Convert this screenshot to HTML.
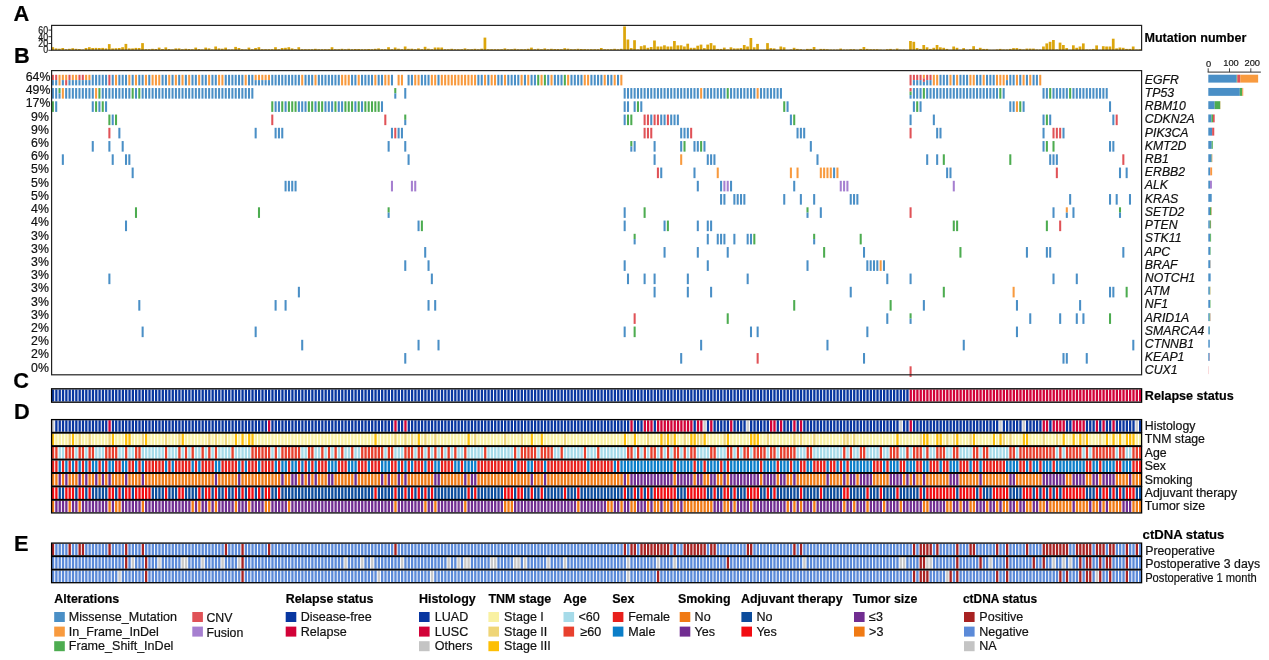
<!DOCTYPE html><html><head><meta charset="utf-8"><style>html,body{margin:0;padding:0;background:#fff;width:1269px;height:660px;overflow:hidden}svg{display:block;filter:blur(0.45px)}text{font-family:"Liberation Sans", sans-serif;stroke:#111;stroke-width:0.2px}</style></head><body>
<svg width="1269" height="660" viewBox="0 0 1269 660">
<rect width="1269" height="660" fill="#fff"/>
<text x="13.5" y="21.4" font-size="21.8" font-weight="bold" fill="#000">A</text>
<text x="14.1" y="63" font-size="21.8" font-weight="bold" fill="#000">B</text>
<text x="13.2" y="387.5" font-size="21.8" font-weight="bold" fill="#000">C</text>
<text x="13.9" y="419" font-size="21.8" font-weight="bold" fill="#000">D</text>
<text x="13.9" y="551" font-size="21.8" font-weight="bold" fill="#000">E</text>
<g fill="#dca60c">
<rect x="51.4" y="47.2" width="2.72" height="2.8"/>
<rect x="54.72" y="48.4" width="2.72" height="1.6"/>
<rect x="58.05" y="48.7" width="2.72" height="1.3"/>
<rect x="61.37" y="48" width="2.72" height="2"/>
<rect x="64.7" y="49.2" width="2.72" height="0.8"/>
<rect x="68.02" y="48.8" width="2.72" height="1.2"/>
<rect x="71.35" y="48.2" width="2.72" height="1.8"/>
<rect x="74.67" y="48.8" width="2.72" height="1.2"/>
<rect x="78" y="49" width="2.72" height="1"/>
<rect x="81.32" y="49.5" width="2.72" height="0.5"/>
<rect x="84.64" y="48" width="2.72" height="2"/>
<rect x="87.97" y="47.2" width="2.72" height="2.8"/>
<rect x="91.29" y="48" width="2.72" height="2"/>
<rect x="94.62" y="47.9" width="2.72" height="2.1"/>
<rect x="97.94" y="48" width="2.72" height="2"/>
<rect x="101.27" y="47.9" width="2.72" height="2.1"/>
<rect x="104.59" y="48.4" width="2.72" height="1.6"/>
<rect x="107.91" y="44.1" width="2.72" height="5.9"/>
<rect x="111.24" y="48.4" width="2.72" height="1.6"/>
<rect x="114.56" y="48.2" width="2.72" height="1.8"/>
<rect x="117.89" y="48" width="2.72" height="2"/>
<rect x="121.21" y="47.2" width="2.72" height="2.8"/>
<rect x="124.54" y="43.9" width="2.72" height="6.1"/>
<rect x="127.86" y="48.4" width="2.72" height="1.6"/>
<rect x="131.19" y="48.4" width="2.72" height="1.6"/>
<rect x="134.51" y="47.9" width="2.72" height="2.1"/>
<rect x="137.83" y="48" width="2.72" height="2"/>
<rect x="141.16" y="43.1" width="2.72" height="6.9"/>
<rect x="144.48" y="49.2" width="2.72" height="0.8"/>
<rect x="147.81" y="49.2" width="2.72" height="0.8"/>
<rect x="151.13" y="48.8" width="2.72" height="1.2"/>
<rect x="154.46" y="49" width="2.72" height="1"/>
<rect x="157.78" y="47.6" width="2.72" height="2.4"/>
<rect x="161.11" y="49" width="2.72" height="1"/>
<rect x="164.43" y="47.4" width="2.72" height="2.6"/>
<rect x="167.75" y="49" width="2.72" height="1"/>
<rect x="171.08" y="49.4" width="2.72" height="0.6"/>
<rect x="174.4" y="48.4" width="2.72" height="1.6"/>
<rect x="177.73" y="48.4" width="2.72" height="1.6"/>
<rect x="181.05" y="49.2" width="2.72" height="0.8"/>
<rect x="184.38" y="48.7" width="2.72" height="1.3"/>
<rect x="187.7" y="49" width="2.72" height="1"/>
<rect x="191.02" y="49.2" width="2.72" height="0.8"/>
<rect x="194.35" y="47.6" width="2.72" height="2.4"/>
<rect x="197.67" y="49" width="2.72" height="1"/>
<rect x="201" y="49.4" width="2.72" height="0.6"/>
<rect x="204.32" y="47.6" width="2.72" height="2.4"/>
<rect x="207.65" y="48.4" width="2.72" height="1.6"/>
<rect x="210.97" y="49.4" width="2.72" height="0.6"/>
<rect x="214.3" y="46.5" width="2.72" height="3.5"/>
<rect x="217.62" y="48.4" width="2.72" height="1.6"/>
<rect x="220.94" y="48.7" width="2.72" height="1.3"/>
<rect x="224.27" y="47.6" width="2.72" height="2.4"/>
<rect x="227.59" y="49.4" width="2.72" height="0.6"/>
<rect x="230.92" y="49.4" width="2.72" height="0.6"/>
<rect x="234.24" y="46.9" width="2.72" height="3.1"/>
<rect x="237.57" y="48" width="2.72" height="2"/>
<rect x="240.89" y="49.2" width="2.72" height="0.8"/>
<rect x="244.22" y="49.4" width="2.72" height="0.6"/>
<rect x="247.54" y="47.6" width="2.72" height="2.4"/>
<rect x="250.86" y="49.2" width="2.72" height="0.8"/>
<rect x="254.19" y="48" width="2.72" height="2"/>
<rect x="257.51" y="47.2" width="2.72" height="2.8"/>
<rect x="260.84" y="49.2" width="2.72" height="0.8"/>
<rect x="264.16" y="49.2" width="2.72" height="0.8"/>
<rect x="267.49" y="49.2" width="2.72" height="0.8"/>
<rect x="270.81" y="49.2" width="2.72" height="0.8"/>
<rect x="274.13" y="47.2" width="2.72" height="2.8"/>
<rect x="277.46" y="49.2" width="2.72" height="0.8"/>
<rect x="280.78" y="48" width="2.72" height="2"/>
<rect x="284.11" y="47.8" width="2.72" height="2.2"/>
<rect x="287.43" y="47.2" width="2.72" height="2.8"/>
<rect x="290.76" y="48.4" width="2.72" height="1.6"/>
<rect x="294.08" y="49.2" width="2.72" height="0.8"/>
<rect x="297.41" y="47.2" width="2.72" height="2.8"/>
<rect x="300.73" y="49.2" width="2.72" height="0.8"/>
<rect x="304.05" y="49.2" width="2.72" height="0.8"/>
<rect x="307.38" y="49.2" width="2.72" height="0.8"/>
<rect x="310.7" y="49.2" width="2.72" height="0.8"/>
<rect x="314.03" y="48.8" width="2.72" height="1.2"/>
<rect x="317.35" y="49.2" width="2.72" height="0.8"/>
<rect x="320.68" y="49.2" width="2.72" height="0.8"/>
<rect x="324" y="49.2" width="2.72" height="0.8"/>
<rect x="327.33" y="49.2" width="2.72" height="0.8"/>
<rect x="330.65" y="47.2" width="2.72" height="2.8"/>
<rect x="333.97" y="49.2" width="2.72" height="0.8"/>
<rect x="337.3" y="49.2" width="2.72" height="0.8"/>
<rect x="340.62" y="48.8" width="2.72" height="1.2"/>
<rect x="343.95" y="49.2" width="2.72" height="0.8"/>
<rect x="347.27" y="48.8" width="2.72" height="1.2"/>
<rect x="350.6" y="49.2" width="2.72" height="0.8"/>
<rect x="353.92" y="49" width="2.72" height="1"/>
<rect x="357.24" y="49" width="2.72" height="1"/>
<rect x="360.57" y="49.2" width="2.72" height="0.8"/>
<rect x="363.89" y="49.2" width="2.72" height="0.8"/>
<rect x="367.22" y="49" width="2.72" height="1"/>
<rect x="370.54" y="49.2" width="2.72" height="0.8"/>
<rect x="373.87" y="48.8" width="2.72" height="1.2"/>
<rect x="377.19" y="48.4" width="2.72" height="1.6"/>
<rect x="380.52" y="49.2" width="2.72" height="0.8"/>
<rect x="383.84" y="49.2" width="2.72" height="0.8"/>
<rect x="387.16" y="47.2" width="2.72" height="2.8"/>
<rect x="390.49" y="49.2" width="2.72" height="0.8"/>
<rect x="393.81" y="47.5" width="2.72" height="2.5"/>
<rect x="397.14" y="48.7" width="2.72" height="1.3"/>
<rect x="400.46" y="49.2" width="2.72" height="0.8"/>
<rect x="403.79" y="46.5" width="2.72" height="3.5"/>
<rect x="407.11" y="48.8" width="2.72" height="1.2"/>
<rect x="410.44" y="48.7" width="2.72" height="1.3"/>
<rect x="413.76" y="49.2" width="2.72" height="0.8"/>
<rect x="417.08" y="48.4" width="2.72" height="1.6"/>
<rect x="420.41" y="49.2" width="2.72" height="0.8"/>
<rect x="423.73" y="46.8" width="2.72" height="3.2"/>
<rect x="427.06" y="48.7" width="2.72" height="1.3"/>
<rect x="430.38" y="49.2" width="2.72" height="0.8"/>
<rect x="433.71" y="47.5" width="2.72" height="2.5"/>
<rect x="437.03" y="47.5" width="2.72" height="2.5"/>
<rect x="440.35" y="47.5" width="2.72" height="2.5"/>
<rect x="443.68" y="49.2" width="2.72" height="0.8"/>
<rect x="447" y="49.2" width="2.72" height="0.8"/>
<rect x="450.33" y="48.8" width="2.72" height="1.2"/>
<rect x="453.65" y="49.2" width="2.72" height="0.8"/>
<rect x="456.98" y="49.2" width="2.72" height="0.8"/>
<rect x="460.3" y="49.2" width="2.72" height="0.8"/>
<rect x="463.63" y="48.4" width="2.72" height="1.6"/>
<rect x="466.95" y="49.2" width="2.72" height="0.8"/>
<rect x="470.27" y="49.2" width="2.72" height="0.8"/>
<rect x="473.6" y="48.8" width="2.72" height="1.2"/>
<rect x="476.92" y="49.2" width="2.72" height="0.8"/>
<rect x="480.25" y="48.7" width="2.72" height="1.3"/>
<rect x="483.57" y="37.6" width="2.72" height="12.4"/>
<rect x="486.9" y="49.2" width="2.72" height="0.8"/>
<rect x="490.22" y="49.2" width="2.72" height="0.8"/>
<rect x="493.55" y="49.2" width="2.72" height="0.8"/>
<rect x="496.87" y="49.2" width="2.72" height="0.8"/>
<rect x="500.19" y="49.2" width="2.72" height="0.8"/>
<rect x="503.52" y="48.4" width="2.72" height="1.6"/>
<rect x="506.84" y="49.2" width="2.72" height="0.8"/>
<rect x="510.17" y="49.2" width="2.72" height="0.8"/>
<rect x="513.49" y="48.7" width="2.72" height="1.3"/>
<rect x="516.82" y="49.2" width="2.72" height="0.8"/>
<rect x="520.14" y="49.2" width="2.72" height="0.8"/>
<rect x="523.46" y="49.2" width="2.72" height="0.8"/>
<rect x="526.79" y="48.8" width="2.72" height="1.2"/>
<rect x="530.11" y="47.6" width="2.72" height="2.4"/>
<rect x="533.44" y="49.2" width="2.72" height="0.8"/>
<rect x="536.76" y="48.7" width="2.72" height="1.3"/>
<rect x="540.09" y="49.2" width="2.72" height="0.8"/>
<rect x="543.41" y="48.4" width="2.72" height="1.6"/>
<rect x="546.74" y="49.2" width="2.72" height="0.8"/>
<rect x="550.06" y="48.8" width="2.72" height="1.2"/>
<rect x="553.38" y="49" width="2.72" height="1"/>
<rect x="556.71" y="49" width="2.72" height="1"/>
<rect x="560.03" y="49.2" width="2.72" height="0.8"/>
<rect x="563.36" y="48.2" width="2.72" height="1.8"/>
<rect x="566.68" y="48.7" width="2.72" height="1.3"/>
<rect x="570.01" y="49.2" width="2.72" height="0.8"/>
<rect x="573.33" y="49.2" width="2.72" height="0.8"/>
<rect x="576.66" y="48.8" width="2.72" height="1.2"/>
<rect x="579.98" y="49" width="2.72" height="1"/>
<rect x="583.3" y="49.1" width="2.72" height="0.9"/>
<rect x="586.63" y="49.2" width="2.72" height="0.8"/>
<rect x="589.95" y="49.2" width="2.72" height="0.8"/>
<rect x="593.28" y="49.2" width="2.72" height="0.8"/>
<rect x="596.6" y="49.2" width="2.72" height="0.8"/>
<rect x="599.93" y="48" width="2.72" height="2"/>
<rect x="603.25" y="49.2" width="2.72" height="0.8"/>
<rect x="606.57" y="49.2" width="2.72" height="0.8"/>
<rect x="609.9" y="49.2" width="2.72" height="0.8"/>
<rect x="613.22" y="48.8" width="2.72" height="1.2"/>
<rect x="616.55" y="49.2" width="2.72" height="0.8"/>
<rect x="619.87" y="48.8" width="2.72" height="1.2"/>
<rect x="623.2" y="26.4" width="2.72" height="23.6"/>
<rect x="626.52" y="39.5" width="2.72" height="10.5"/>
<rect x="629.85" y="48.1" width="2.72" height="1.9"/>
<rect x="633.17" y="40.2" width="2.72" height="9.8"/>
<rect x="636.49" y="49.4" width="2.72" height="0.6"/>
<rect x="639.82" y="46.2" width="2.72" height="3.8"/>
<rect x="643.14" y="45.3" width="2.72" height="4.7"/>
<rect x="646.47" y="47.8" width="2.72" height="2.2"/>
<rect x="649.79" y="47" width="2.72" height="3"/>
<rect x="653.12" y="40.5" width="2.72" height="9.5"/>
<rect x="656.44" y="46.5" width="2.72" height="3.5"/>
<rect x="659.77" y="46.5" width="2.72" height="3.5"/>
<rect x="663.09" y="45.3" width="2.72" height="4.7"/>
<rect x="666.41" y="46.5" width="2.72" height="3.5"/>
<rect x="669.74" y="46.5" width="2.72" height="3.5"/>
<rect x="673.06" y="41" width="2.72" height="9"/>
<rect x="676.39" y="45.4" width="2.72" height="4.6"/>
<rect x="679.71" y="45.3" width="2.72" height="4.7"/>
<rect x="683.04" y="46.5" width="2.72" height="3.5"/>
<rect x="686.36" y="43.7" width="2.72" height="6.3"/>
<rect x="689.68" y="47.8" width="2.72" height="2.2"/>
<rect x="693.01" y="47.8" width="2.72" height="2.2"/>
<rect x="696.33" y="45.7" width="2.72" height="4.3"/>
<rect x="699.66" y="44.6" width="2.72" height="5.4"/>
<rect x="702.98" y="48.1" width="2.72" height="1.9"/>
<rect x="706.31" y="44.6" width="2.72" height="5.4"/>
<rect x="709.63" y="43.1" width="2.72" height="6.9"/>
<rect x="712.96" y="45.4" width="2.72" height="4.6"/>
<rect x="716.28" y="48.9" width="2.72" height="1.1"/>
<rect x="719.6" y="48.9" width="2.72" height="1.1"/>
<rect x="722.93" y="47.6" width="2.72" height="2.4"/>
<rect x="726.25" y="49.4" width="2.72" height="0.6"/>
<rect x="729.58" y="47.3" width="2.72" height="2.7"/>
<rect x="732.9" y="48.4" width="2.72" height="1.6"/>
<rect x="736.23" y="48.4" width="2.72" height="1.6"/>
<rect x="739.55" y="48.1" width="2.72" height="1.9"/>
<rect x="742.88" y="45" width="2.72" height="5"/>
<rect x="746.2" y="46.5" width="2.72" height="3.5"/>
<rect x="749.52" y="38" width="2.72" height="12"/>
<rect x="752.85" y="47.3" width="2.72" height="2.7"/>
<rect x="756.17" y="43.9" width="2.72" height="6.1"/>
<rect x="759.5" y="49.7" width="2.72" height="0.3"/>
<rect x="762.82" y="49.7" width="2.72" height="0.3"/>
<rect x="766.15" y="43.1" width="2.72" height="6.9"/>
<rect x="769.47" y="48.1" width="2.72" height="1.9"/>
<rect x="772.79" y="48.4" width="2.72" height="1.6"/>
<rect x="776.12" y="49.7" width="2.72" height="0.3"/>
<rect x="779.44" y="46.5" width="2.72" height="3.5"/>
<rect x="782.77" y="47.3" width="2.72" height="2.7"/>
<rect x="786.09" y="49.7" width="2.72" height="0.3"/>
<rect x="789.42" y="49.4" width="2.72" height="0.6"/>
<rect x="792.74" y="47.8" width="2.72" height="2.2"/>
<rect x="796.07" y="48.9" width="2.72" height="1.1"/>
<rect x="799.39" y="49.2" width="2.72" height="0.8"/>
<rect x="802.71" y="49.7" width="2.72" height="0.3"/>
<rect x="806.04" y="48.9" width="2.72" height="1.1"/>
<rect x="809.36" y="48.9" width="2.72" height="1.1"/>
<rect x="812.69" y="47" width="2.72" height="3"/>
<rect x="816.01" y="49.7" width="2.72" height="0.3"/>
<rect x="819.34" y="48.9" width="2.72" height="1.1"/>
<rect x="822.66" y="48.9" width="2.72" height="1.1"/>
<rect x="825.99" y="49.2" width="2.72" height="0.8"/>
<rect x="829.31" y="49.5" width="2.72" height="0.5"/>
<rect x="832.63" y="49.5" width="2.72" height="0.5"/>
<rect x="835.96" y="49.5" width="2.72" height="0.5"/>
<rect x="839.28" y="48.6" width="2.72" height="1.4"/>
<rect x="842.61" y="49.5" width="2.72" height="0.5"/>
<rect x="845.93" y="49.5" width="2.72" height="0.5"/>
<rect x="849.26" y="49.2" width="2.72" height="0.8"/>
<rect x="852.58" y="49.2" width="2.72" height="0.8"/>
<rect x="855.9" y="49.7" width="2.72" height="0.3"/>
<rect x="859.23" y="48.9" width="2.72" height="1.1"/>
<rect x="862.55" y="47" width="2.72" height="3"/>
<rect x="865.88" y="48.9" width="2.72" height="1.1"/>
<rect x="869.2" y="49.2" width="2.72" height="0.8"/>
<rect x="872.53" y="49.2" width="2.72" height="0.8"/>
<rect x="875.85" y="49.2" width="2.72" height="0.8"/>
<rect x="879.18" y="49.5" width="2.72" height="0.5"/>
<rect x="882.5" y="49.7" width="2.72" height="0.3"/>
<rect x="885.82" y="49.2" width="2.72" height="0.8"/>
<rect x="889.15" y="48.9" width="2.72" height="1.1"/>
<rect x="892.47" y="49.5" width="2.72" height="0.5"/>
<rect x="895.8" y="48.6" width="2.72" height="1.4"/>
<rect x="899.12" y="49.5" width="2.72" height="0.5"/>
<rect x="902.45" y="49.5" width="2.72" height="0.5"/>
<rect x="905.77" y="49.7" width="2.72" height="0.3"/>
<rect x="909.1" y="41" width="2.72" height="9"/>
<rect x="912.42" y="41.8" width="2.72" height="8.2"/>
<rect x="915.74" y="48.1" width="2.72" height="1.9"/>
<rect x="919.07" y="48.9" width="2.72" height="1.1"/>
<rect x="922.39" y="45" width="2.72" height="5"/>
<rect x="925.72" y="47.3" width="2.72" height="2.7"/>
<rect x="929.04" y="48.9" width="2.72" height="1.1"/>
<rect x="932.37" y="47.8" width="2.72" height="2.2"/>
<rect x="935.69" y="45" width="2.72" height="5"/>
<rect x="939.01" y="47.3" width="2.72" height="2.7"/>
<rect x="942.34" y="47.8" width="2.72" height="2.2"/>
<rect x="945.66" y="48.9" width="2.72" height="1.1"/>
<rect x="948.99" y="49.7" width="2.72" height="0.3"/>
<rect x="952.31" y="46.5" width="2.72" height="3.5"/>
<rect x="955.64" y="47.8" width="2.72" height="2.2"/>
<rect x="958.96" y="49.7" width="2.72" height="0.3"/>
<rect x="962.29" y="48.1" width="2.72" height="1.9"/>
<rect x="965.61" y="49.7" width="2.72" height="0.3"/>
<rect x="968.93" y="49.2" width="2.72" height="0.8"/>
<rect x="972.26" y="46.2" width="2.72" height="3.8"/>
<rect x="975.58" y="49.2" width="2.72" height="0.8"/>
<rect x="978.91" y="47.8" width="2.72" height="2.2"/>
<rect x="982.23" y="48.9" width="2.72" height="1.1"/>
<rect x="985.56" y="48.9" width="2.72" height="1.1"/>
<rect x="988.88" y="49.7" width="2.72" height="0.3"/>
<rect x="992.21" y="49.7" width="2.72" height="0.3"/>
<rect x="995.53" y="49.4" width="2.72" height="0.6"/>
<rect x="998.85" y="48.9" width="2.72" height="1.1"/>
<rect x="1002.18" y="49.4" width="2.72" height="0.6"/>
<rect x="1005.5" y="49.4" width="2.72" height="0.6"/>
<rect x="1008.83" y="48.9" width="2.72" height="1.1"/>
<rect x="1012.15" y="48.1" width="2.72" height="1.9"/>
<rect x="1015.48" y="48.1" width="2.72" height="1.9"/>
<rect x="1018.8" y="48.9" width="2.72" height="1.1"/>
<rect x="1022.12" y="49.4" width="2.72" height="0.6"/>
<rect x="1025.45" y="48.6" width="2.72" height="1.4"/>
<rect x="1028.77" y="48.6" width="2.72" height="1.4"/>
<rect x="1032.1" y="48.6" width="2.72" height="1.4"/>
<rect x="1035.42" y="49.4" width="2.72" height="0.6"/>
<rect x="1038.75" y="49.4" width="2.72" height="0.6"/>
<rect x="1042.07" y="46.5" width="2.72" height="3.5"/>
<rect x="1045.4" y="43.4" width="2.72" height="6.6"/>
<rect x="1048.72" y="41.8" width="2.72" height="8.2"/>
<rect x="1052.04" y="40" width="2.72" height="10"/>
<rect x="1055.37" y="49.4" width="2.72" height="0.6"/>
<rect x="1058.69" y="42.6" width="2.72" height="7.4"/>
<rect x="1062.02" y="45" width="2.72" height="5"/>
<rect x="1065.34" y="48.1" width="2.72" height="1.9"/>
<rect x="1068.67" y="49.7" width="2.72" height="0.3"/>
<rect x="1071.99" y="45.3" width="2.72" height="4.7"/>
<rect x="1075.32" y="47.8" width="2.72" height="2.2"/>
<rect x="1078.64" y="46.5" width="2.72" height="3.5"/>
<rect x="1081.96" y="43.4" width="2.72" height="6.6"/>
<rect x="1085.29" y="49.4" width="2.72" height="0.6"/>
<rect x="1088.61" y="49.4" width="2.72" height="0.6"/>
<rect x="1091.94" y="48.9" width="2.72" height="1.1"/>
<rect x="1095.26" y="45.4" width="2.72" height="4.6"/>
<rect x="1098.59" y="49.7" width="2.72" height="0.3"/>
<rect x="1101.91" y="46.2" width="2.72" height="3.8"/>
<rect x="1105.23" y="46.5" width="2.72" height="3.5"/>
<rect x="1108.56" y="46.5" width="2.72" height="3.5"/>
<rect x="1111.88" y="38.7" width="2.72" height="11.3"/>
<rect x="1115.21" y="48.4" width="2.72" height="1.6"/>
<rect x="1118.53" y="47.5" width="2.72" height="2.5"/>
<rect x="1121.86" y="47.8" width="2.72" height="2.2"/>
<rect x="1125.18" y="48.9" width="2.72" height="1.1"/>
<rect x="1128.51" y="48.9" width="2.72" height="1.1"/>
<rect x="1131.83" y="46.5" width="2.72" height="3.5"/>
<rect x="1135.15" y="49.4" width="2.72" height="0.6"/>
<rect x="1138.48" y="49.2" width="2.72" height="0.8"/>
</g>
<rect x="51.6" y="25.4" width="1090" height="24.8" fill="none" stroke="#222" stroke-width="1.2"/>
<line x1="48.4" y1="30.1" x2="51.6" y2="30.1" stroke="#222" stroke-width="0.9"/>
<text transform="translate(48.2 33.7) scale(0.86 1)" x="0" y="0" font-size="10.3" text-anchor="end" fill="#222">60</text>
<line x1="48.4" y1="36.7" x2="51.6" y2="36.7" stroke="#222" stroke-width="0.9"/>
<text transform="translate(48.2 40.6) scale(0.86 1)" x="0" y="0" font-size="10.3" text-anchor="end" fill="#222">40</text>
<line x1="48.4" y1="43.5" x2="51.6" y2="43.5" stroke="#222" stroke-width="0.9"/>
<text transform="translate(48.2 47.1) scale(0.86 1)" x="0" y="0" font-size="10.3" text-anchor="end" fill="#222">20</text>
<line x1="48.4" y1="50.3" x2="51.6" y2="50.3" stroke="#222" stroke-width="0.9"/>
<text transform="translate(48.2 52.9) scale(0.86 1)" x="0" y="0" font-size="10.3" text-anchor="end" fill="#222">0</text>
<text x="1144.5" y="41.8" font-size="12.55" font-weight="bold" fill="#000">Mutation number</text>
<rect x="51.85" y="74.8" width="2.05" height="5.3" fill="#e05257"/>
<rect x="51.85" y="80.1" width="2.05" height="5.3" fill="#4a8fc6"/>
<rect x="55.17" y="74.8" width="2.05" height="5.3" fill="#e05257"/>
<rect x="55.17" y="80.1" width="2.05" height="5.3" fill="#4a8fc6"/>
<rect x="58.5" y="74.8" width="2.05" height="10.6" fill="#f89a3e"/>
<rect x="61.82" y="74.8" width="2.05" height="5.3" fill="#f89a3e"/>
<rect x="61.82" y="80.1" width="2.05" height="5.3" fill="#4a8fc6"/>
<rect x="65.15" y="74.8" width="2.05" height="5.3" fill="#f89a3e"/>
<rect x="65.15" y="80.1" width="2.05" height="5.3" fill="#e05257"/>
<rect x="68.47" y="74.8" width="2.05" height="5.3" fill="#e05257"/>
<rect x="68.47" y="80.1" width="2.05" height="5.3" fill="#4a8fc6"/>
<rect x="71.8" y="74.8" width="2.05" height="5.3" fill="#f89a3e"/>
<rect x="71.8" y="80.1" width="2.05" height="5.3" fill="#4a8fc6"/>
<rect x="75.12" y="74.8" width="2.05" height="5.3" fill="#f89a3e"/>
<rect x="75.12" y="80.1" width="2.05" height="5.3" fill="#4a8fc6"/>
<rect x="78.45" y="74.8" width="2.05" height="5.3" fill="#e05257"/>
<rect x="78.45" y="80.1" width="2.05" height="5.3" fill="#4a8fc6"/>
<rect x="81.77" y="74.8" width="2.05" height="5.3" fill="#e05257"/>
<rect x="81.77" y="80.1" width="2.05" height="5.3" fill="#4a8fc6"/>
<rect x="85.09" y="74.8" width="2.05" height="5.3" fill="#f89a3e"/>
<rect x="85.09" y="80.1" width="2.05" height="5.3" fill="#4a8fc6"/>
<rect x="88.42" y="74.8" width="2.05" height="5.3" fill="#f89a3e"/>
<rect x="88.42" y="80.1" width="2.05" height="5.3" fill="#4a8fc6"/>
<rect x="91.74" y="74.8" width="2.05" height="10.6" fill="#4a8fc6"/>
<rect x="95.07" y="74.8" width="2.05" height="10.6" fill="#4a8fc6"/>
<rect x="98.39" y="74.8" width="2.05" height="10.6" fill="#4a8fc6"/>
<rect x="101.72" y="74.8" width="2.05" height="10.6" fill="#4a8fc6"/>
<rect x="105.04" y="74.8" width="2.05" height="10.6" fill="#4a8fc6"/>
<rect x="108.36" y="74.8" width="2.05" height="10.6" fill="#e05257"/>
<rect x="111.69" y="74.8" width="2.05" height="10.6" fill="#4a8fc6"/>
<rect x="115.01" y="74.8" width="2.05" height="10.6" fill="#f89a3e"/>
<rect x="118.34" y="74.8" width="2.05" height="10.6" fill="#4a8fc6"/>
<rect x="121.66" y="74.8" width="2.05" height="10.6" fill="#4a8fc6"/>
<rect x="124.99" y="74.8" width="2.05" height="10.6" fill="#4a8fc6"/>
<rect x="128.31" y="74.8" width="2.05" height="10.6" fill="#f89a3e"/>
<rect x="131.64" y="74.8" width="2.05" height="10.6" fill="#4a8fc6"/>
<rect x="134.96" y="74.8" width="2.05" height="10.6" fill="#f89a3e"/>
<rect x="138.28" y="74.8" width="2.05" height="10.6" fill="#4a8fc6"/>
<rect x="141.61" y="74.8" width="2.05" height="10.6" fill="#4a8fc6"/>
<rect x="144.93" y="74.8" width="2.05" height="10.6" fill="#f89a3e"/>
<rect x="148.26" y="74.8" width="2.05" height="10.6" fill="#4a8fc6"/>
<rect x="151.58" y="74.8" width="2.05" height="10.6" fill="#f89a3e"/>
<rect x="154.91" y="74.8" width="2.05" height="10.6" fill="#f89a3e"/>
<rect x="158.23" y="74.8" width="2.05" height="10.6" fill="#f89a3e"/>
<rect x="161.56" y="74.8" width="2.05" height="10.6" fill="#4a8fc6"/>
<rect x="164.88" y="74.8" width="2.05" height="10.6" fill="#4a8fc6"/>
<rect x="168.2" y="74.8" width="2.05" height="10.6" fill="#f89a3e"/>
<rect x="171.53" y="74.8" width="2.05" height="10.6" fill="#4a8fc6"/>
<rect x="174.85" y="74.8" width="2.05" height="10.6" fill="#f89a3e"/>
<rect x="178.18" y="74.8" width="2.05" height="10.6" fill="#4a8fc6"/>
<rect x="181.5" y="74.8" width="2.05" height="10.6" fill="#f89a3e"/>
<rect x="184.83" y="74.8" width="2.05" height="10.6" fill="#4a8fc6"/>
<rect x="188.15" y="74.8" width="2.05" height="10.6" fill="#f89a3e"/>
<rect x="191.47" y="74.8" width="2.05" height="10.6" fill="#4a8fc6"/>
<rect x="194.8" y="74.8" width="2.05" height="10.6" fill="#4a8fc6"/>
<rect x="198.12" y="74.8" width="2.05" height="10.6" fill="#f89a3e"/>
<rect x="201.45" y="74.8" width="2.05" height="10.6" fill="#4a8fc6"/>
<rect x="204.77" y="74.8" width="2.05" height="10.6" fill="#4a8fc6"/>
<rect x="208.1" y="74.8" width="2.05" height="10.6" fill="#f89a3e"/>
<rect x="211.42" y="74.8" width="2.05" height="10.6" fill="#4a8fc6"/>
<rect x="214.75" y="74.8" width="2.05" height="10.6" fill="#4a8fc6"/>
<rect x="218.07" y="74.8" width="2.05" height="10.6" fill="#f89a3e"/>
<rect x="221.39" y="74.8" width="2.05" height="10.6" fill="#f89a3e"/>
<rect x="224.72" y="74.8" width="2.05" height="10.6" fill="#4a8fc6"/>
<rect x="228.04" y="74.8" width="2.05" height="10.6" fill="#4a8fc6"/>
<rect x="231.37" y="74.8" width="2.05" height="10.6" fill="#4a8fc6"/>
<rect x="234.69" y="74.8" width="2.05" height="10.6" fill="#4a8fc6"/>
<rect x="238.02" y="74.8" width="2.05" height="10.6" fill="#4a8fc6"/>
<rect x="241.34" y="74.8" width="2.05" height="10.6" fill="#4a8fc6"/>
<rect x="244.67" y="74.8" width="2.05" height="10.6" fill="#f89a3e"/>
<rect x="247.99" y="74.8" width="2.05" height="10.6" fill="#4a8fc6"/>
<rect x="251.31" y="74.8" width="2.05" height="10.6" fill="#4a8fc6"/>
<rect x="254.64" y="74.8" width="2.05" height="5.3" fill="#f89a3e"/>
<rect x="254.64" y="80.1" width="2.05" height="5.3" fill="#4a8fc6"/>
<rect x="257.96" y="74.8" width="2.05" height="5.3" fill="#f89a3e"/>
<rect x="257.96" y="80.1" width="2.05" height="5.3" fill="#4a8fc6"/>
<rect x="261.29" y="74.8" width="2.05" height="5.3" fill="#f89a3e"/>
<rect x="261.29" y="80.1" width="2.05" height="5.3" fill="#4a8fc6"/>
<rect x="264.61" y="74.8" width="2.05" height="5.3" fill="#f89a3e"/>
<rect x="264.61" y="80.1" width="2.05" height="5.3" fill="#4a8fc6"/>
<rect x="267.94" y="74.8" width="2.05" height="5.3" fill="#f89a3e"/>
<rect x="267.94" y="80.1" width="2.05" height="5.3" fill="#4a8fc6"/>
<rect x="271.26" y="74.8" width="2.05" height="10.6" fill="#4a8fc6"/>
<rect x="274.58" y="74.8" width="2.05" height="10.6" fill="#4a8fc6"/>
<rect x="277.91" y="74.8" width="2.05" height="10.6" fill="#4a8fc6"/>
<rect x="281.23" y="74.8" width="2.05" height="10.6" fill="#4a8fc6"/>
<rect x="284.56" y="74.8" width="2.05" height="10.6" fill="#4a8fc6"/>
<rect x="287.88" y="74.8" width="2.05" height="10.6" fill="#4a8fc6"/>
<rect x="291.21" y="74.8" width="2.05" height="10.6" fill="#4a8fc6"/>
<rect x="294.53" y="74.8" width="2.05" height="10.6" fill="#4a8fc6"/>
<rect x="297.86" y="74.8" width="2.05" height="10.6" fill="#4a8fc6"/>
<rect x="301.18" y="74.8" width="2.05" height="10.6" fill="#f89a3e"/>
<rect x="304.5" y="74.8" width="2.05" height="10.6" fill="#4a8fc6"/>
<rect x="307.83" y="74.8" width="2.05" height="10.6" fill="#4a8fc6"/>
<rect x="311.15" y="74.8" width="2.05" height="10.6" fill="#4a8fc6"/>
<rect x="314.48" y="74.8" width="2.05" height="10.6" fill="#f89a3e"/>
<rect x="317.8" y="74.8" width="2.05" height="10.6" fill="#4a8fc6"/>
<rect x="321.13" y="74.8" width="2.05" height="10.6" fill="#4a8fc6"/>
<rect x="324.45" y="74.8" width="2.05" height="10.6" fill="#4a8fc6"/>
<rect x="327.78" y="74.8" width="2.05" height="10.6" fill="#4a8fc6"/>
<rect x="331.1" y="74.8" width="2.05" height="10.6" fill="#4a8fc6"/>
<rect x="334.42" y="74.8" width="2.05" height="10.6" fill="#4a8fc6"/>
<rect x="337.75" y="74.8" width="2.05" height="10.6" fill="#4a8fc6"/>
<rect x="341.07" y="74.8" width="2.05" height="10.6" fill="#f89a3e"/>
<rect x="344.4" y="74.8" width="2.05" height="10.6" fill="#f89a3e"/>
<rect x="347.72" y="74.8" width="2.05" height="10.6" fill="#f89a3e"/>
<rect x="351.05" y="74.8" width="2.05" height="10.6" fill="#4a8fc6"/>
<rect x="354.37" y="74.8" width="2.05" height="10.6" fill="#4a8fc6"/>
<rect x="357.69" y="74.8" width="2.05" height="10.6" fill="#f89a3e"/>
<rect x="361.02" y="74.8" width="2.05" height="10.6" fill="#4a8fc6"/>
<rect x="364.34" y="74.8" width="2.05" height="10.6" fill="#4a8fc6"/>
<rect x="367.67" y="74.8" width="2.05" height="10.6" fill="#4a8fc6"/>
<rect x="370.99" y="74.8" width="2.05" height="10.6" fill="#4a8fc6"/>
<rect x="374.32" y="74.8" width="2.05" height="10.6" fill="#f89a3e"/>
<rect x="377.64" y="74.8" width="2.05" height="10.6" fill="#4a8fc6"/>
<rect x="380.97" y="74.8" width="2.05" height="10.6" fill="#4a8fc6"/>
<rect x="384.29" y="74.8" width="2.05" height="10.6" fill="#f89a3e"/>
<rect x="387.61" y="74.8" width="2.05" height="10.6" fill="#f89a3e"/>
<rect x="390.94" y="74.8" width="2.05" height="10.6" fill="#4a8fc6"/>
<rect x="397.59" y="74.8" width="2.05" height="10.6" fill="#f89a3e"/>
<rect x="400.91" y="74.8" width="2.05" height="10.6" fill="#f89a3e"/>
<rect x="407.56" y="74.8" width="2.05" height="10.6" fill="#4a8fc6"/>
<rect x="410.89" y="74.8" width="2.05" height="10.6" fill="#4a8fc6"/>
<rect x="414.21" y="74.8" width="2.05" height="10.6" fill="#f89a3e"/>
<rect x="417.53" y="74.8" width="2.05" height="10.6" fill="#f89a3e"/>
<rect x="420.86" y="74.8" width="2.05" height="10.6" fill="#4a8fc6"/>
<rect x="424.18" y="74.8" width="2.05" height="10.6" fill="#4a8fc6"/>
<rect x="427.51" y="74.8" width="2.05" height="10.6" fill="#4a8fc6"/>
<rect x="430.83" y="74.8" width="2.05" height="10.6" fill="#f89a3e"/>
<rect x="434.16" y="74.8" width="2.05" height="10.6" fill="#f89a3e"/>
<rect x="437.48" y="74.8" width="2.05" height="10.6" fill="#4a8fc6"/>
<rect x="440.8" y="74.8" width="2.05" height="10.6" fill="#f89a3e"/>
<rect x="444.13" y="74.8" width="2.05" height="10.6" fill="#f89a3e"/>
<rect x="447.45" y="74.8" width="2.05" height="10.6" fill="#f89a3e"/>
<rect x="450.78" y="74.8" width="2.05" height="10.6" fill="#f89a3e"/>
<rect x="454.1" y="74.8" width="2.05" height="10.6" fill="#f89a3e"/>
<rect x="457.43" y="74.8" width="2.05" height="10.6" fill="#f89a3e"/>
<rect x="460.75" y="74.8" width="2.05" height="10.6" fill="#f89a3e"/>
<rect x="464.08" y="74.8" width="2.05" height="10.6" fill="#f89a3e"/>
<rect x="467.4" y="74.8" width="2.05" height="10.6" fill="#f89a3e"/>
<rect x="470.72" y="74.8" width="2.05" height="10.6" fill="#f89a3e"/>
<rect x="474.05" y="74.8" width="2.05" height="10.6" fill="#f89a3e"/>
<rect x="477.37" y="74.8" width="2.05" height="10.6" fill="#4a8fc6"/>
<rect x="480.7" y="74.8" width="2.05" height="10.6" fill="#4a8fc6"/>
<rect x="484.02" y="74.8" width="2.05" height="10.6" fill="#f89a3e"/>
<rect x="487.35" y="74.8" width="2.05" height="10.6" fill="#4a8fc6"/>
<rect x="490.67" y="74.8" width="2.05" height="10.6" fill="#f89a3e"/>
<rect x="494" y="74.8" width="2.05" height="10.6" fill="#f89a3e"/>
<rect x="497.32" y="74.8" width="2.05" height="10.6" fill="#4a8fc6"/>
<rect x="500.64" y="74.8" width="2.05" height="10.6" fill="#4a8fc6"/>
<rect x="503.97" y="74.8" width="2.05" height="10.6" fill="#f89a3e"/>
<rect x="507.29" y="74.8" width="2.05" height="10.6" fill="#4a8fc6"/>
<rect x="510.62" y="74.8" width="2.05" height="10.6" fill="#4a8fc6"/>
<rect x="513.94" y="74.8" width="2.05" height="10.6" fill="#4a8fc6"/>
<rect x="517.27" y="74.8" width="2.05" height="10.6" fill="#4a8fc6"/>
<rect x="520.59" y="74.8" width="2.05" height="10.6" fill="#f89a3e"/>
<rect x="523.91" y="74.8" width="2.05" height="10.6" fill="#4a8fc6"/>
<rect x="527.24" y="74.8" width="2.05" height="10.6" fill="#f89a3e"/>
<rect x="530.56" y="74.8" width="2.05" height="10.6" fill="#4a8fc6"/>
<rect x="533.89" y="74.8" width="2.05" height="10.6" fill="#4a8fc6"/>
<rect x="537.21" y="74.8" width="2.05" height="10.6" fill="#4dac50"/>
<rect x="540.54" y="74.8" width="2.05" height="10.6" fill="#f89a3e"/>
<rect x="543.86" y="74.8" width="2.05" height="10.6" fill="#4dac50"/>
<rect x="547.19" y="74.8" width="2.05" height="10.6" fill="#4a8fc6"/>
<rect x="550.51" y="74.8" width="2.05" height="10.6" fill="#f89a3e"/>
<rect x="553.83" y="74.8" width="2.05" height="10.6" fill="#4a8fc6"/>
<rect x="557.16" y="74.8" width="2.05" height="10.6" fill="#4a8fc6"/>
<rect x="560.48" y="74.8" width="2.05" height="10.6" fill="#4a8fc6"/>
<rect x="563.81" y="74.8" width="2.05" height="10.6" fill="#4dac50"/>
<rect x="567.13" y="74.8" width="2.05" height="10.6" fill="#f89a3e"/>
<rect x="570.46" y="74.8" width="2.05" height="10.6" fill="#4a8fc6"/>
<rect x="573.78" y="74.8" width="2.05" height="10.6" fill="#4a8fc6"/>
<rect x="577.11" y="74.8" width="2.05" height="10.6" fill="#4a8fc6"/>
<rect x="580.43" y="74.8" width="2.05" height="10.6" fill="#4a8fc6"/>
<rect x="583.75" y="74.8" width="2.05" height="10.6" fill="#f89a3e"/>
<rect x="587.08" y="74.8" width="2.05" height="10.6" fill="#f89a3e"/>
<rect x="590.4" y="74.8" width="2.05" height="10.6" fill="#4a8fc6"/>
<rect x="593.73" y="74.8" width="2.05" height="10.6" fill="#4a8fc6"/>
<rect x="597.05" y="74.8" width="2.05" height="10.6" fill="#4a8fc6"/>
<rect x="600.38" y="74.8" width="2.05" height="10.6" fill="#4a8fc6"/>
<rect x="603.7" y="74.8" width="2.05" height="10.6" fill="#f89a3e"/>
<rect x="607.02" y="74.8" width="2.05" height="10.6" fill="#4a8fc6"/>
<rect x="610.35" y="74.8" width="2.05" height="10.6" fill="#4a8fc6"/>
<rect x="613.67" y="74.8" width="2.05" height="10.6" fill="#f89a3e"/>
<rect x="617" y="74.8" width="2.05" height="10.6" fill="#4a8fc6"/>
<rect x="620.32" y="74.8" width="2.05" height="10.6" fill="#f89a3e"/>
<rect x="909.55" y="74.8" width="2.05" height="10.6" fill="#e05257"/>
<rect x="912.87" y="74.8" width="2.05" height="5.3" fill="#e05257"/>
<rect x="912.87" y="80.1" width="2.05" height="5.3" fill="#4a8fc6"/>
<rect x="916.19" y="74.8" width="2.05" height="5.3" fill="#e05257"/>
<rect x="916.19" y="80.1" width="2.05" height="5.3" fill="#4a8fc6"/>
<rect x="919.52" y="74.8" width="2.05" height="5.3" fill="#e05257"/>
<rect x="919.52" y="80.1" width="2.05" height="5.3" fill="#4a8fc6"/>
<rect x="922.84" y="74.8" width="2.05" height="3.53" fill="#f89a3e"/>
<rect x="922.84" y="78.33" width="2.05" height="3.53" fill="#e05257"/>
<rect x="922.84" y="81.87" width="2.05" height="3.53" fill="#4a8fc6"/>
<rect x="926.17" y="74.8" width="2.05" height="5.3" fill="#e05257"/>
<rect x="926.17" y="80.1" width="2.05" height="5.3" fill="#4a8fc6"/>
<rect x="929.49" y="74.8" width="2.05" height="5.3" fill="#e05257"/>
<rect x="929.49" y="80.1" width="2.05" height="5.3" fill="#4a8fc6"/>
<rect x="932.82" y="74.8" width="2.05" height="10.6" fill="#f89a3e"/>
<rect x="936.14" y="74.8" width="2.05" height="10.6" fill="#f89a3e"/>
<rect x="939.46" y="74.8" width="2.05" height="10.6" fill="#4a8fc6"/>
<rect x="942.79" y="74.8" width="2.05" height="10.6" fill="#4a8fc6"/>
<rect x="946.11" y="74.8" width="2.05" height="10.6" fill="#4a8fc6"/>
<rect x="949.44" y="74.8" width="2.05" height="10.6" fill="#f89a3e"/>
<rect x="952.76" y="74.8" width="2.05" height="10.6" fill="#4a8fc6"/>
<rect x="956.09" y="74.8" width="2.05" height="10.6" fill="#f89a3e"/>
<rect x="959.41" y="74.8" width="2.05" height="10.6" fill="#4a8fc6"/>
<rect x="962.74" y="74.8" width="2.05" height="10.6" fill="#4a8fc6"/>
<rect x="966.06" y="74.8" width="2.05" height="10.6" fill="#4a8fc6"/>
<rect x="969.38" y="74.8" width="2.05" height="10.6" fill="#f89a3e"/>
<rect x="972.71" y="74.8" width="2.05" height="10.6" fill="#f89a3e"/>
<rect x="976.03" y="74.8" width="2.05" height="10.6" fill="#4a8fc6"/>
<rect x="979.36" y="74.8" width="2.05" height="10.6" fill="#4a8fc6"/>
<rect x="982.68" y="74.8" width="2.05" height="10.6" fill="#f89a3e"/>
<rect x="986.01" y="74.8" width="2.05" height="10.6" fill="#4a8fc6"/>
<rect x="989.33" y="74.8" width="2.05" height="10.6" fill="#4a8fc6"/>
<rect x="992.66" y="74.8" width="2.05" height="10.6" fill="#4a8fc6"/>
<rect x="995.98" y="74.8" width="2.05" height="10.6" fill="#f89a3e"/>
<rect x="999.3" y="74.8" width="2.05" height="10.6" fill="#f89a3e"/>
<rect x="1002.63" y="74.8" width="2.05" height="10.6" fill="#f89a3e"/>
<rect x="1005.95" y="74.8" width="2.05" height="5.3" fill="#f89a3e"/>
<rect x="1005.95" y="80.1" width="2.05" height="5.3" fill="#4a8fc6"/>
<rect x="1009.28" y="74.8" width="2.05" height="10.6" fill="#4a8fc6"/>
<rect x="1012.6" y="74.8" width="2.05" height="10.6" fill="#4a8fc6"/>
<rect x="1015.93" y="74.8" width="2.05" height="10.6" fill="#f89a3e"/>
<rect x="1019.25" y="74.8" width="2.05" height="10.6" fill="#4a8fc6"/>
<rect x="1022.57" y="74.8" width="2.05" height="10.6" fill="#f89a3e"/>
<rect x="1025.9" y="74.8" width="2.05" height="10.6" fill="#4a8fc6"/>
<rect x="1029.22" y="74.8" width="2.05" height="10.6" fill="#f89a3e"/>
<rect x="1032.55" y="74.8" width="2.05" height="10.6" fill="#4a8fc6"/>
<rect x="1035.87" y="74.8" width="2.05" height="10.6" fill="#4a8fc6"/>
<rect x="1039.2" y="74.8" width="2.05" height="10.6" fill="#f89a3e"/>
<text x="50.4" y="81" font-size="12.3" text-anchor="end" fill="#111">64%</text>
<text x="1144.8" y="83.8" font-size="12.3" font-style="italic" fill="#111">EGFR</text>
<rect x="1208.3" y="74.7" width="28.33" height="7.9" fill="#4a8fc6"/>
<rect x="1236.63" y="74.7" width="0.64" height="7.9" fill="#4dac50"/>
<rect x="1237.27" y="74.7" width="2.98" height="7.9" fill="#e05257"/>
<rect x="1240.25" y="74.7" width="17.89" height="7.9" fill="#f89a3e"/>
<rect x="51.85" y="88.05" width="2.05" height="10.6" fill="#4a8fc6"/>
<rect x="55.17" y="88.05" width="2.05" height="10.6" fill="#4a8fc6"/>
<rect x="58.5" y="88.05" width="2.05" height="5.3" fill="#4dac50"/>
<rect x="58.5" y="93.35" width="2.05" height="5.3" fill="#4a8fc6"/>
<rect x="61.82" y="88.05" width="2.05" height="10.6" fill="#f89a3e"/>
<rect x="65.15" y="88.05" width="2.05" height="10.6" fill="#4a8fc6"/>
<rect x="68.47" y="88.05" width="2.05" height="10.6" fill="#4a8fc6"/>
<rect x="71.8" y="88.05" width="2.05" height="10.6" fill="#4a8fc6"/>
<rect x="75.12" y="88.05" width="2.05" height="10.6" fill="#4a8fc6"/>
<rect x="78.45" y="88.05" width="2.05" height="10.6" fill="#4a8fc6"/>
<rect x="81.77" y="88.05" width="2.05" height="10.6" fill="#4a8fc6"/>
<rect x="85.09" y="88.05" width="2.05" height="10.6" fill="#4a8fc6"/>
<rect x="88.42" y="88.05" width="2.05" height="10.6" fill="#4a8fc6"/>
<rect x="91.74" y="88.05" width="2.05" height="10.6" fill="#4a8fc6"/>
<rect x="95.07" y="88.05" width="2.05" height="10.6" fill="#f89a3e"/>
<rect x="98.39" y="88.05" width="2.05" height="10.6" fill="#4dac50"/>
<rect x="101.72" y="88.05" width="2.05" height="10.6" fill="#4a8fc6"/>
<rect x="105.04" y="88.05" width="2.05" height="10.6" fill="#4a8fc6"/>
<rect x="108.36" y="88.05" width="2.05" height="10.6" fill="#4a8fc6"/>
<rect x="111.69" y="88.05" width="2.05" height="10.6" fill="#4a8fc6"/>
<rect x="115.01" y="88.05" width="2.05" height="10.6" fill="#4a8fc6"/>
<rect x="118.34" y="88.05" width="2.05" height="10.6" fill="#4a8fc6"/>
<rect x="121.66" y="88.05" width="2.05" height="10.6" fill="#4a8fc6"/>
<rect x="124.99" y="88.05" width="2.05" height="10.6" fill="#4a8fc6"/>
<rect x="128.31" y="88.05" width="2.05" height="10.6" fill="#4a8fc6"/>
<rect x="131.64" y="88.05" width="2.05" height="10.6" fill="#4dac50"/>
<rect x="134.96" y="88.05" width="2.05" height="10.6" fill="#4a8fc6"/>
<rect x="138.28" y="88.05" width="2.05" height="10.6" fill="#4dac50"/>
<rect x="141.61" y="88.05" width="2.05" height="10.6" fill="#4a8fc6"/>
<rect x="144.93" y="88.05" width="2.05" height="10.6" fill="#4a8fc6"/>
<rect x="148.26" y="88.05" width="2.05" height="10.6" fill="#4a8fc6"/>
<rect x="151.58" y="88.05" width="2.05" height="10.6" fill="#4a8fc6"/>
<rect x="154.91" y="88.05" width="2.05" height="10.6" fill="#4a8fc6"/>
<rect x="158.23" y="88.05" width="2.05" height="10.6" fill="#4a8fc6"/>
<rect x="161.56" y="88.05" width="2.05" height="10.6" fill="#4a8fc6"/>
<rect x="164.88" y="88.05" width="2.05" height="10.6" fill="#4a8fc6"/>
<rect x="168.2" y="88.05" width="2.05" height="10.6" fill="#4a8fc6"/>
<rect x="171.53" y="88.05" width="2.05" height="10.6" fill="#4a8fc6"/>
<rect x="174.85" y="88.05" width="2.05" height="10.6" fill="#4a8fc6"/>
<rect x="178.18" y="88.05" width="2.05" height="10.6" fill="#4a8fc6"/>
<rect x="181.5" y="88.05" width="2.05" height="10.6" fill="#4a8fc6"/>
<rect x="184.83" y="88.05" width="2.05" height="10.6" fill="#4a8fc6"/>
<rect x="188.15" y="88.05" width="2.05" height="10.6" fill="#4a8fc6"/>
<rect x="191.47" y="88.05" width="2.05" height="10.6" fill="#4a8fc6"/>
<rect x="194.8" y="88.05" width="2.05" height="10.6" fill="#4a8fc6"/>
<rect x="198.12" y="88.05" width="2.05" height="10.6" fill="#4a8fc6"/>
<rect x="201.45" y="88.05" width="2.05" height="10.6" fill="#4a8fc6"/>
<rect x="204.77" y="88.05" width="2.05" height="10.6" fill="#4a8fc6"/>
<rect x="208.1" y="88.05" width="2.05" height="10.6" fill="#4a8fc6"/>
<rect x="211.42" y="88.05" width="2.05" height="10.6" fill="#4a8fc6"/>
<rect x="214.75" y="88.05" width="2.05" height="10.6" fill="#4a8fc6"/>
<rect x="218.07" y="88.05" width="2.05" height="10.6" fill="#4a8fc6"/>
<rect x="221.39" y="88.05" width="2.05" height="10.6" fill="#4a8fc6"/>
<rect x="224.72" y="88.05" width="2.05" height="10.6" fill="#4a8fc6"/>
<rect x="228.04" y="88.05" width="2.05" height="10.6" fill="#4a8fc6"/>
<rect x="231.37" y="88.05" width="2.05" height="10.6" fill="#4a8fc6"/>
<rect x="234.69" y="88.05" width="2.05" height="10.6" fill="#4a8fc6"/>
<rect x="238.02" y="88.05" width="2.05" height="10.6" fill="#4a8fc6"/>
<rect x="241.34" y="88.05" width="2.05" height="10.6" fill="#4a8fc6"/>
<rect x="244.67" y="88.05" width="2.05" height="10.6" fill="#4a8fc6"/>
<rect x="247.99" y="88.05" width="2.05" height="10.6" fill="#4a8fc6"/>
<rect x="251.31" y="88.05" width="2.05" height="10.6" fill="#4a8fc6"/>
<rect x="394.26" y="88.05" width="2.05" height="5.3" fill="#4dac50"/>
<rect x="394.26" y="93.35" width="2.05" height="5.3" fill="#4a8fc6"/>
<rect x="404.24" y="88.05" width="2.05" height="10.6" fill="#4a8fc6"/>
<rect x="623.65" y="88.05" width="2.05" height="10.6" fill="#4a8fc6"/>
<rect x="626.97" y="88.05" width="2.05" height="10.6" fill="#4a8fc6"/>
<rect x="630.3" y="88.05" width="2.05" height="10.6" fill="#4a8fc6"/>
<rect x="633.62" y="88.05" width="2.05" height="10.6" fill="#4a8fc6"/>
<rect x="636.94" y="88.05" width="2.05" height="10.6" fill="#4a8fc6"/>
<rect x="640.27" y="88.05" width="2.05" height="10.6" fill="#4a8fc6"/>
<rect x="643.59" y="88.05" width="2.05" height="10.6" fill="#4a8fc6"/>
<rect x="646.92" y="88.05" width="2.05" height="10.6" fill="#4a8fc6"/>
<rect x="650.24" y="88.05" width="2.05" height="10.6" fill="#4a8fc6"/>
<rect x="653.57" y="88.05" width="2.05" height="10.6" fill="#4a8fc6"/>
<rect x="656.89" y="88.05" width="2.05" height="10.6" fill="#4a8fc6"/>
<rect x="660.22" y="88.05" width="2.05" height="10.6" fill="#4a8fc6"/>
<rect x="663.54" y="88.05" width="2.05" height="10.6" fill="#4a8fc6"/>
<rect x="666.86" y="88.05" width="2.05" height="10.6" fill="#4a8fc6"/>
<rect x="670.19" y="88.05" width="2.05" height="10.6" fill="#4a8fc6"/>
<rect x="673.51" y="88.05" width="2.05" height="10.6" fill="#4a8fc6"/>
<rect x="676.84" y="88.05" width="2.05" height="10.6" fill="#4a8fc6"/>
<rect x="680.16" y="88.05" width="2.05" height="10.6" fill="#4a8fc6"/>
<rect x="683.49" y="88.05" width="2.05" height="10.6" fill="#4a8fc6"/>
<rect x="686.81" y="88.05" width="2.05" height="10.6" fill="#4a8fc6"/>
<rect x="690.13" y="88.05" width="2.05" height="10.6" fill="#4a8fc6"/>
<rect x="693.46" y="88.05" width="2.05" height="10.6" fill="#4a8fc6"/>
<rect x="696.78" y="88.05" width="2.05" height="10.6" fill="#4a8fc6"/>
<rect x="700.11" y="88.05" width="2.05" height="10.6" fill="#f89a3e"/>
<rect x="703.43" y="88.05" width="2.05" height="10.6" fill="#4a8fc6"/>
<rect x="706.76" y="88.05" width="2.05" height="10.6" fill="#4a8fc6"/>
<rect x="710.08" y="88.05" width="2.05" height="10.6" fill="#4a8fc6"/>
<rect x="713.41" y="88.05" width="2.05" height="10.6" fill="#4a8fc6"/>
<rect x="716.73" y="88.05" width="2.05" height="10.6" fill="#4a8fc6"/>
<rect x="720.05" y="88.05" width="2.05" height="10.6" fill="#4a8fc6"/>
<rect x="723.38" y="88.05" width="2.05" height="10.6" fill="#4a8fc6"/>
<rect x="726.7" y="88.05" width="2.05" height="10.6" fill="#4dac50"/>
<rect x="730.03" y="88.05" width="2.05" height="10.6" fill="#4a8fc6"/>
<rect x="733.35" y="88.05" width="2.05" height="10.6" fill="#4a8fc6"/>
<rect x="736.68" y="88.05" width="2.05" height="10.6" fill="#4a8fc6"/>
<rect x="740" y="88.05" width="2.05" height="10.6" fill="#4a8fc6"/>
<rect x="743.33" y="88.05" width="2.05" height="10.6" fill="#4a8fc6"/>
<rect x="746.65" y="88.05" width="2.05" height="10.6" fill="#4a8fc6"/>
<rect x="749.97" y="88.05" width="2.05" height="10.6" fill="#4a8fc6"/>
<rect x="753.3" y="88.05" width="2.05" height="10.6" fill="#4a8fc6"/>
<rect x="756.62" y="88.05" width="2.05" height="10.6" fill="#f89a3e"/>
<rect x="759.95" y="88.05" width="2.05" height="10.6" fill="#4a8fc6"/>
<rect x="763.27" y="88.05" width="2.05" height="10.6" fill="#4a8fc6"/>
<rect x="766.6" y="88.05" width="2.05" height="10.6" fill="#4a8fc6"/>
<rect x="769.92" y="88.05" width="2.05" height="10.6" fill="#4a8fc6"/>
<rect x="773.24" y="88.05" width="2.05" height="10.6" fill="#4a8fc6"/>
<rect x="776.57" y="88.05" width="2.05" height="10.6" fill="#4a8fc6"/>
<rect x="779.89" y="88.05" width="2.05" height="10.6" fill="#4a8fc6"/>
<rect x="909.55" y="88.05" width="2.05" height="3.53" fill="#e05257"/>
<rect x="909.55" y="91.58" width="2.05" height="3.53" fill="#4dac50"/>
<rect x="909.55" y="95.12" width="2.05" height="3.53" fill="#4a8fc6"/>
<rect x="912.87" y="88.05" width="2.05" height="10.6" fill="#4a8fc6"/>
<rect x="916.19" y="88.05" width="2.05" height="10.6" fill="#4a8fc6"/>
<rect x="919.52" y="88.05" width="2.05" height="10.6" fill="#4a8fc6"/>
<rect x="922.84" y="88.05" width="2.05" height="10.6" fill="#4dac50"/>
<rect x="926.17" y="88.05" width="2.05" height="10.6" fill="#4a8fc6"/>
<rect x="929.49" y="88.05" width="2.05" height="10.6" fill="#4a8fc6"/>
<rect x="932.82" y="88.05" width="2.05" height="10.6" fill="#4a8fc6"/>
<rect x="936.14" y="88.05" width="2.05" height="10.6" fill="#4a8fc6"/>
<rect x="939.46" y="88.05" width="2.05" height="10.6" fill="#4a8fc6"/>
<rect x="942.79" y="88.05" width="2.05" height="10.6" fill="#4a8fc6"/>
<rect x="946.11" y="88.05" width="2.05" height="10.6" fill="#4a8fc6"/>
<rect x="949.44" y="88.05" width="2.05" height="10.6" fill="#4a8fc6"/>
<rect x="952.76" y="88.05" width="2.05" height="10.6" fill="#4a8fc6"/>
<rect x="956.09" y="88.05" width="2.05" height="10.6" fill="#4a8fc6"/>
<rect x="959.41" y="88.05" width="2.05" height="10.6" fill="#4a8fc6"/>
<rect x="962.74" y="88.05" width="2.05" height="10.6" fill="#4a8fc6"/>
<rect x="966.06" y="88.05" width="2.05" height="10.6" fill="#4a8fc6"/>
<rect x="969.38" y="88.05" width="2.05" height="10.6" fill="#4a8fc6"/>
<rect x="972.71" y="88.05" width="2.05" height="10.6" fill="#4a8fc6"/>
<rect x="976.03" y="88.05" width="2.05" height="10.6" fill="#4a8fc6"/>
<rect x="979.36" y="88.05" width="2.05" height="10.6" fill="#4a8fc6"/>
<rect x="982.68" y="88.05" width="2.05" height="10.6" fill="#4a8fc6"/>
<rect x="986.01" y="88.05" width="2.05" height="10.6" fill="#4a8fc6"/>
<rect x="989.33" y="88.05" width="2.05" height="10.6" fill="#4a8fc6"/>
<rect x="992.66" y="88.05" width="2.05" height="10.6" fill="#4a8fc6"/>
<rect x="995.98" y="88.05" width="2.05" height="10.6" fill="#4a8fc6"/>
<rect x="999.3" y="88.05" width="2.05" height="10.6" fill="#4dac50"/>
<rect x="1002.63" y="88.05" width="2.05" height="10.6" fill="#4a8fc6"/>
<rect x="1042.52" y="88.05" width="2.05" height="10.6" fill="#4a8fc6"/>
<rect x="1045.85" y="88.05" width="2.05" height="10.6" fill="#4a8fc6"/>
<rect x="1049.17" y="88.05" width="2.05" height="10.6" fill="#4dac50"/>
<rect x="1052.49" y="88.05" width="2.05" height="10.6" fill="#4a8fc6"/>
<rect x="1055.82" y="88.05" width="2.05" height="10.6" fill="#4a8fc6"/>
<rect x="1059.14" y="88.05" width="2.05" height="10.6" fill="#4a8fc6"/>
<rect x="1062.47" y="88.05" width="2.05" height="10.6" fill="#4a8fc6"/>
<rect x="1065.79" y="88.05" width="2.05" height="10.6" fill="#4a8fc6"/>
<rect x="1069.12" y="88.05" width="2.05" height="10.6" fill="#4dac50"/>
<rect x="1072.44" y="88.05" width="2.05" height="10.6" fill="#4a8fc6"/>
<rect x="1075.77" y="88.05" width="2.05" height="10.6" fill="#4a8fc6"/>
<rect x="1079.09" y="88.05" width="2.05" height="10.6" fill="#4a8fc6"/>
<rect x="1082.41" y="88.05" width="2.05" height="10.6" fill="#4a8fc6"/>
<rect x="1085.74" y="88.05" width="2.05" height="10.6" fill="#4a8fc6"/>
<rect x="1089.06" y="88.05" width="2.05" height="10.6" fill="#4a8fc6"/>
<rect x="1092.39" y="88.05" width="2.05" height="10.6" fill="#4a8fc6"/>
<rect x="1095.71" y="88.05" width="2.05" height="10.6" fill="#4a8fc6"/>
<rect x="1099.04" y="88.05" width="2.05" height="10.6" fill="#4a8fc6"/>
<rect x="1102.36" y="88.05" width="2.05" height="10.6" fill="#4a8fc6"/>
<rect x="1105.68" y="88.05" width="2.05" height="10.6" fill="#4a8fc6"/>
<text x="50.4" y="94.21" font-size="12.3" text-anchor="end" fill="#111">49%</text>
<text x="1144.8" y="97.01" font-size="12.3" font-style="italic" fill="#111">TP53</text>
<rect x="1208.3" y="87.95" width="31.52" height="7.9" fill="#4a8fc6"/>
<rect x="1239.82" y="87.95" width="2.34" height="7.9" fill="#4dac50"/>
<rect x="1242.17" y="87.95" width="0.21" height="7.9" fill="#e05257"/>
<rect x="1242.38" y="87.95" width="0.85" height="7.9" fill="#f89a3e"/>
<rect x="51.85" y="101.3" width="2.05" height="10.6" fill="#4dac50"/>
<rect x="55.17" y="101.3" width="2.05" height="10.6" fill="#4a8fc6"/>
<rect x="91.74" y="101.3" width="2.05" height="10.6" fill="#4a8fc6"/>
<rect x="95.07" y="101.3" width="2.05" height="10.6" fill="#4dac50"/>
<rect x="98.39" y="101.3" width="2.05" height="10.6" fill="#4a8fc6"/>
<rect x="101.72" y="101.3" width="2.05" height="10.6" fill="#4dac50"/>
<rect x="105.04" y="101.3" width="2.05" height="10.6" fill="#4a8fc6"/>
<rect x="271.26" y="101.3" width="2.05" height="10.6" fill="#4dac50"/>
<rect x="274.58" y="101.3" width="2.05" height="10.6" fill="#4a8fc6"/>
<rect x="277.91" y="101.3" width="2.05" height="10.6" fill="#4a8fc6"/>
<rect x="281.23" y="101.3" width="2.05" height="10.6" fill="#4dac50"/>
<rect x="284.56" y="101.3" width="2.05" height="10.6" fill="#4a8fc6"/>
<rect x="287.88" y="101.3" width="2.05" height="10.6" fill="#4dac50"/>
<rect x="291.21" y="101.3" width="2.05" height="10.6" fill="#4dac50"/>
<rect x="294.53" y="101.3" width="2.05" height="10.6" fill="#4dac50"/>
<rect x="297.86" y="101.3" width="2.05" height="10.6" fill="#4a8fc6"/>
<rect x="301.18" y="101.3" width="2.05" height="10.6" fill="#4a8fc6"/>
<rect x="304.5" y="101.3" width="2.05" height="10.6" fill="#4a8fc6"/>
<rect x="307.83" y="101.3" width="2.05" height="10.6" fill="#4dac50"/>
<rect x="311.15" y="101.3" width="2.05" height="10.6" fill="#4dac50"/>
<rect x="314.48" y="101.3" width="2.05" height="10.6" fill="#4a8fc6"/>
<rect x="317.8" y="101.3" width="2.05" height="10.6" fill="#4dac50"/>
<rect x="321.13" y="101.3" width="2.05" height="10.6" fill="#4dac50"/>
<rect x="324.45" y="101.3" width="2.05" height="10.6" fill="#4a8fc6"/>
<rect x="327.78" y="101.3" width="2.05" height="10.6" fill="#4a8fc6"/>
<rect x="331.1" y="101.3" width="2.05" height="10.6" fill="#4a8fc6"/>
<rect x="334.42" y="101.3" width="2.05" height="10.6" fill="#4dac50"/>
<rect x="337.75" y="101.3" width="2.05" height="10.6" fill="#4a8fc6"/>
<rect x="341.07" y="101.3" width="2.05" height="10.6" fill="#4a8fc6"/>
<rect x="344.4" y="101.3" width="2.05" height="10.6" fill="#4dac50"/>
<rect x="347.72" y="101.3" width="2.05" height="10.6" fill="#4dac50"/>
<rect x="351.05" y="101.3" width="2.05" height="10.6" fill="#4dac50"/>
<rect x="354.37" y="101.3" width="2.05" height="10.6" fill="#4a8fc6"/>
<rect x="357.69" y="101.3" width="2.05" height="10.6" fill="#4dac50"/>
<rect x="361.02" y="101.3" width="2.05" height="10.6" fill="#4a8fc6"/>
<rect x="364.34" y="101.3" width="2.05" height="10.6" fill="#4dac50"/>
<rect x="367.67" y="101.3" width="2.05" height="10.6" fill="#4dac50"/>
<rect x="370.99" y="101.3" width="2.05" height="10.6" fill="#4dac50"/>
<rect x="374.32" y="101.3" width="2.05" height="10.6" fill="#4dac50"/>
<rect x="377.64" y="101.3" width="2.05" height="10.6" fill="#4dac50"/>
<rect x="380.97" y="101.3" width="2.05" height="10.6" fill="#4a8fc6"/>
<rect x="623.65" y="101.3" width="2.05" height="10.6" fill="#4a8fc6"/>
<rect x="626.97" y="101.3" width="2.05" height="10.6" fill="#4a8fc6"/>
<rect x="633.62" y="101.3" width="2.05" height="10.6" fill="#4a8fc6"/>
<rect x="636.94" y="101.3" width="2.05" height="10.6" fill="#4dac50"/>
<rect x="640.27" y="101.3" width="2.05" height="10.6" fill="#4a8fc6"/>
<rect x="783.22" y="101.3" width="2.05" height="10.6" fill="#4dac50"/>
<rect x="786.54" y="101.3" width="2.05" height="10.6" fill="#4a8fc6"/>
<rect x="912.87" y="101.3" width="2.05" height="10.6" fill="#4a8fc6"/>
<rect x="916.19" y="101.3" width="2.05" height="10.6" fill="#4dac50"/>
<rect x="919.52" y="101.3" width="2.05" height="10.6" fill="#4a8fc6"/>
<rect x="1009.28" y="101.3" width="2.05" height="10.6" fill="#4a8fc6"/>
<rect x="1012.6" y="101.3" width="2.05" height="10.6" fill="#4a8fc6"/>
<rect x="1015.93" y="101.3" width="2.05" height="10.6" fill="#f89a3e"/>
<rect x="1019.25" y="101.3" width="2.05" height="10.6" fill="#4dac50"/>
<rect x="1022.57" y="101.3" width="2.05" height="10.6" fill="#4a8fc6"/>
<rect x="1109.01" y="101.3" width="2.05" height="10.6" fill="#4a8fc6"/>
<text x="50.4" y="107.42" font-size="12.3" text-anchor="end" fill="#111">17%</text>
<text x="1144.8" y="110.22" font-size="12.3" font-style="italic" fill="#111">RBM10</text>
<rect x="1208.3" y="101.2" width="6.39" height="7.9" fill="#4a8fc6"/>
<rect x="1214.69" y="101.2" width="5.54" height="7.9" fill="#4dac50"/>
<rect x="1220.23" y="101.2" width="0.21" height="7.9" fill="#f89a3e"/>
<rect x="108.36" y="114.55" width="2.05" height="10.6" fill="#4dac50"/>
<rect x="111.69" y="114.55" width="2.05" height="10.6" fill="#4a8fc6"/>
<rect x="115.01" y="114.55" width="2.05" height="10.6" fill="#4dac50"/>
<rect x="271.26" y="114.55" width="2.05" height="10.6" fill="#e05257"/>
<rect x="384.29" y="114.55" width="2.05" height="10.6" fill="#e05257"/>
<rect x="404.24" y="114.55" width="2.05" height="5.3" fill="#4dac50"/>
<rect x="404.24" y="119.85" width="2.05" height="5.3" fill="#4a8fc6"/>
<rect x="623.65" y="114.55" width="2.05" height="10.6" fill="#4a8fc6"/>
<rect x="626.97" y="114.55" width="2.05" height="10.6" fill="#4dac50"/>
<rect x="630.3" y="114.55" width="2.05" height="10.6" fill="#4dac50"/>
<rect x="643.59" y="114.55" width="2.05" height="10.6" fill="#e05257"/>
<rect x="646.92" y="114.55" width="2.05" height="10.6" fill="#e05257"/>
<rect x="650.24" y="114.55" width="2.05" height="10.6" fill="#4a8fc6"/>
<rect x="653.57" y="114.55" width="2.05" height="10.6" fill="#e05257"/>
<rect x="656.89" y="114.55" width="2.05" height="10.6" fill="#e05257"/>
<rect x="660.22" y="114.55" width="2.05" height="10.6" fill="#4a8fc6"/>
<rect x="663.54" y="114.55" width="2.05" height="10.6" fill="#4a8fc6"/>
<rect x="666.86" y="114.55" width="2.05" height="10.6" fill="#e05257"/>
<rect x="670.19" y="114.55" width="2.05" height="10.6" fill="#4a8fc6"/>
<rect x="673.51" y="114.55" width="2.05" height="10.6" fill="#4a8fc6"/>
<rect x="676.84" y="114.55" width="2.05" height="10.6" fill="#4a8fc6"/>
<rect x="789.87" y="114.55" width="2.05" height="10.6" fill="#4a8fc6"/>
<rect x="793.19" y="114.55" width="2.05" height="10.6" fill="#4dac50"/>
<rect x="909.55" y="114.55" width="2.05" height="10.6" fill="#4a8fc6"/>
<rect x="932.82" y="114.55" width="2.05" height="10.6" fill="#4a8fc6"/>
<rect x="1042.52" y="114.55" width="2.05" height="10.6" fill="#4a8fc6"/>
<rect x="1045.85" y="114.55" width="2.05" height="10.6" fill="#4dac50"/>
<rect x="1049.17" y="114.55" width="2.05" height="10.6" fill="#4a8fc6"/>
<rect x="1112.33" y="114.55" width="2.05" height="10.6" fill="#4a8fc6"/>
<rect x="1115.66" y="114.55" width="2.05" height="10.6" fill="#e05257"/>
<text x="48.9" y="120.63" font-size="12.3" text-anchor="end" fill="#111">9%</text>
<text x="1144.8" y="123.43" font-size="12.3" font-style="italic" fill="#111">CDKN2A</text>
<rect x="1208.3" y="114.45" width="3.19" height="7.9" fill="#4a8fc6"/>
<rect x="1211.49" y="114.45" width="1.49" height="7.9" fill="#4dac50"/>
<rect x="1212.99" y="114.45" width="1.7" height="7.9" fill="#e05257"/>
<rect x="108.36" y="127.8" width="2.05" height="10.6" fill="#e05257"/>
<rect x="118.34" y="127.8" width="2.05" height="10.6" fill="#4a8fc6"/>
<rect x="254.64" y="127.8" width="2.05" height="10.6" fill="#4a8fc6"/>
<rect x="274.58" y="127.8" width="2.05" height="10.6" fill="#4a8fc6"/>
<rect x="277.91" y="127.8" width="2.05" height="10.6" fill="#4a8fc6"/>
<rect x="281.23" y="127.8" width="2.05" height="10.6" fill="#4a8fc6"/>
<rect x="390.94" y="127.8" width="2.05" height="10.6" fill="#4a8fc6"/>
<rect x="394.26" y="127.8" width="2.05" height="10.6" fill="#e05257"/>
<rect x="397.59" y="127.8" width="2.05" height="10.6" fill="#4a8fc6"/>
<rect x="400.91" y="127.8" width="2.05" height="10.6" fill="#4a8fc6"/>
<rect x="643.59" y="127.8" width="2.05" height="10.6" fill="#e05257"/>
<rect x="646.92" y="127.8" width="2.05" height="10.6" fill="#e05257"/>
<rect x="650.24" y="127.8" width="2.05" height="10.6" fill="#e05257"/>
<rect x="680.16" y="127.8" width="2.05" height="10.6" fill="#4a8fc6"/>
<rect x="683.49" y="127.8" width="2.05" height="10.6" fill="#4a8fc6"/>
<rect x="686.81" y="127.8" width="2.05" height="10.6" fill="#4a8fc6"/>
<rect x="690.13" y="127.8" width="2.05" height="10.6" fill="#e05257"/>
<rect x="796.52" y="127.8" width="2.05" height="10.6" fill="#4a8fc6"/>
<rect x="799.84" y="127.8" width="2.05" height="10.6" fill="#4a8fc6"/>
<rect x="803.16" y="127.8" width="2.05" height="10.6" fill="#4a8fc6"/>
<rect x="909.55" y="127.8" width="2.05" height="10.6" fill="#e05257"/>
<rect x="936.14" y="127.8" width="2.05" height="10.6" fill="#4a8fc6"/>
<rect x="939.46" y="127.8" width="2.05" height="10.6" fill="#4a8fc6"/>
<rect x="1042.52" y="127.8" width="2.05" height="10.6" fill="#4a8fc6"/>
<rect x="1052.49" y="127.8" width="2.05" height="10.6" fill="#e05257"/>
<rect x="1055.82" y="127.8" width="2.05" height="10.6" fill="#e05257"/>
<rect x="1059.14" y="127.8" width="2.05" height="10.6" fill="#e05257"/>
<rect x="1062.47" y="127.8" width="2.05" height="10.6" fill="#4a8fc6"/>
<text x="48.9" y="133.84" font-size="12.3" text-anchor="end" fill="#111">9%</text>
<text x="1144.8" y="136.64" font-size="12.3" font-style="italic" fill="#111">PIK3CA</text>
<rect x="1208.3" y="127.7" width="3.83" height="7.9" fill="#4a8fc6"/>
<rect x="1212.13" y="127.7" width="2.13" height="7.9" fill="#e05257"/>
<rect x="91.74" y="141.05" width="2.05" height="10.6" fill="#4a8fc6"/>
<rect x="108.36" y="141.05" width="2.05" height="10.6" fill="#4a8fc6"/>
<rect x="121.66" y="141.05" width="2.05" height="10.6" fill="#4a8fc6"/>
<rect x="387.61" y="141.05" width="2.05" height="10.6" fill="#4a8fc6"/>
<rect x="404.24" y="141.05" width="2.05" height="10.6" fill="#4a8fc6"/>
<rect x="630.3" y="141.05" width="2.05" height="5.3" fill="#4dac50"/>
<rect x="630.3" y="146.35" width="2.05" height="5.3" fill="#4a8fc6"/>
<rect x="633.62" y="141.05" width="2.05" height="10.6" fill="#4a8fc6"/>
<rect x="653.57" y="141.05" width="2.05" height="10.6" fill="#4a8fc6"/>
<rect x="680.16" y="141.05" width="2.05" height="10.6" fill="#4a8fc6"/>
<rect x="683.49" y="141.05" width="2.05" height="10.6" fill="#4dac50"/>
<rect x="693.46" y="141.05" width="2.05" height="10.6" fill="#4a8fc6"/>
<rect x="696.78" y="141.05" width="2.05" height="10.6" fill="#4a8fc6"/>
<rect x="700.11" y="141.05" width="2.05" height="10.6" fill="#4dac50"/>
<rect x="703.43" y="141.05" width="2.05" height="10.6" fill="#4a8fc6"/>
<rect x="809.81" y="141.05" width="2.05" height="10.6" fill="#4a8fc6"/>
<rect x="1042.52" y="141.05" width="2.05" height="10.6" fill="#4a8fc6"/>
<rect x="1045.85" y="141.05" width="2.05" height="10.6" fill="#4dac50"/>
<rect x="1052.49" y="141.05" width="2.05" height="10.6" fill="#4dac50"/>
<rect x="1109.01" y="141.05" width="2.05" height="10.6" fill="#4a8fc6"/>
<rect x="1112.33" y="141.05" width="2.05" height="10.6" fill="#4a8fc6"/>
<text x="48.9" y="147.05" font-size="12.3" text-anchor="end" fill="#111">6%</text>
<text x="1144.8" y="149.85" font-size="12.3" font-style="italic" fill="#111">KMT2D</text>
<rect x="1208.3" y="140.95" width="3.41" height="7.9" fill="#4a8fc6"/>
<rect x="1211.71" y="140.95" width="1.06" height="7.9" fill="#4dac50"/>
<rect x="61.82" y="154.3" width="2.05" height="10.6" fill="#4a8fc6"/>
<rect x="111.69" y="154.3" width="2.05" height="10.6" fill="#4a8fc6"/>
<rect x="124.99" y="154.3" width="2.05" height="10.6" fill="#4a8fc6"/>
<rect x="128.31" y="154.3" width="2.05" height="10.6" fill="#4a8fc6"/>
<rect x="407.56" y="154.3" width="2.05" height="10.6" fill="#4a8fc6"/>
<rect x="653.57" y="154.3" width="2.05" height="10.6" fill="#4a8fc6"/>
<rect x="680.16" y="154.3" width="2.05" height="10.6" fill="#f89a3e"/>
<rect x="706.76" y="154.3" width="2.05" height="10.6" fill="#4a8fc6"/>
<rect x="710.08" y="154.3" width="2.05" height="10.6" fill="#4a8fc6"/>
<rect x="713.41" y="154.3" width="2.05" height="10.6" fill="#4a8fc6"/>
<rect x="816.46" y="154.3" width="2.05" height="10.6" fill="#4a8fc6"/>
<rect x="926.17" y="154.3" width="2.05" height="10.6" fill="#4a8fc6"/>
<rect x="936.14" y="154.3" width="2.05" height="10.6" fill="#4a8fc6"/>
<rect x="942.79" y="154.3" width="2.05" height="10.6" fill="#4dac50"/>
<rect x="1009.28" y="154.3" width="2.05" height="10.6" fill="#4dac50"/>
<rect x="1049.17" y="154.3" width="2.05" height="10.6" fill="#4a8fc6"/>
<rect x="1052.49" y="154.3" width="2.05" height="10.6" fill="#4a8fc6"/>
<rect x="1055.82" y="154.3" width="2.05" height="10.6" fill="#4a8fc6"/>
<rect x="1122.31" y="154.3" width="2.05" height="10.6" fill="#e05257"/>
<text x="48.9" y="160.26" font-size="12.3" text-anchor="end" fill="#111">6%</text>
<text x="1144.8" y="163.06" font-size="12.3" font-style="italic" fill="#111">RB1</text>
<rect x="1208.3" y="154.2" width="3.19" height="7.9" fill="#4a8fc6"/>
<rect x="1211.49" y="154.2" width="0.43" height="7.9" fill="#4dac50"/>
<rect x="1211.92" y="154.2" width="0.21" height="7.9" fill="#e05257"/>
<rect x="1212.13" y="154.2" width="0.21" height="7.9" fill="#f89a3e"/>
<rect x="131.64" y="167.55" width="2.05" height="10.6" fill="#4a8fc6"/>
<rect x="656.89" y="167.55" width="2.05" height="10.6" fill="#e05257"/>
<rect x="660.22" y="167.55" width="2.05" height="10.6" fill="#4a8fc6"/>
<rect x="693.46" y="167.55" width="2.05" height="10.6" fill="#4a8fc6"/>
<rect x="716.73" y="167.55" width="2.05" height="10.6" fill="#f89a3e"/>
<rect x="789.87" y="167.55" width="2.05" height="10.6" fill="#f89a3e"/>
<rect x="796.52" y="167.55" width="2.05" height="10.6" fill="#f89a3e"/>
<rect x="819.79" y="167.55" width="2.05" height="10.6" fill="#f89a3e"/>
<rect x="823.11" y="167.55" width="2.05" height="10.6" fill="#f89a3e"/>
<rect x="826.44" y="167.55" width="2.05" height="10.6" fill="#f89a3e"/>
<rect x="829.76" y="167.55" width="2.05" height="10.6" fill="#f89a3e"/>
<rect x="833.08" y="167.55" width="2.05" height="10.6" fill="#4a8fc6"/>
<rect x="836.41" y="167.55" width="2.05" height="10.6" fill="#f89a3e"/>
<rect x="946.11" y="167.55" width="2.05" height="10.6" fill="#4a8fc6"/>
<rect x="949.44" y="167.55" width="2.05" height="10.6" fill="#4a8fc6"/>
<rect x="1055.82" y="167.55" width="2.05" height="10.6" fill="#e05257"/>
<rect x="1118.98" y="167.55" width="2.05" height="10.6" fill="#4a8fc6"/>
<rect x="1125.63" y="167.55" width="2.05" height="10.6" fill="#4a8fc6"/>
<text x="48.9" y="173.47" font-size="12.3" text-anchor="end" fill="#111">5%</text>
<text x="1144.8" y="176.27" font-size="12.3" font-style="italic" fill="#111">ERBB2</text>
<rect x="1208.3" y="167.45" width="1.7" height="7.9" fill="#4a8fc6"/>
<rect x="1210" y="167.45" width="0.43" height="7.9" fill="#e05257"/>
<rect x="1210.43" y="167.45" width="1.7" height="7.9" fill="#f89a3e"/>
<rect x="284.56" y="180.8" width="2.05" height="10.6" fill="#4a8fc6"/>
<rect x="287.88" y="180.8" width="2.05" height="10.6" fill="#4a8fc6"/>
<rect x="291.21" y="180.8" width="2.05" height="10.6" fill="#4a8fc6"/>
<rect x="294.53" y="180.8" width="2.05" height="10.6" fill="#4a8fc6"/>
<rect x="390.94" y="180.8" width="2.05" height="10.6" fill="#a67fd0"/>
<rect x="410.89" y="180.8" width="2.05" height="10.6" fill="#a67fd0"/>
<rect x="414.21" y="180.8" width="2.05" height="10.6" fill="#a67fd0"/>
<rect x="696.78" y="180.8" width="2.05" height="10.6" fill="#4a8fc6"/>
<rect x="720.05" y="180.8" width="2.05" height="10.6" fill="#4a8fc6"/>
<rect x="723.38" y="180.8" width="2.05" height="10.6" fill="#a67fd0"/>
<rect x="726.7" y="180.8" width="2.05" height="10.6" fill="#a67fd0"/>
<rect x="730.03" y="180.8" width="2.05" height="10.6" fill="#4a8fc6"/>
<rect x="793.19" y="180.8" width="2.05" height="10.6" fill="#4a8fc6"/>
<rect x="839.73" y="180.8" width="2.05" height="10.6" fill="#a67fd0"/>
<rect x="843.06" y="180.8" width="2.05" height="10.6" fill="#a67fd0"/>
<rect x="846.38" y="180.8" width="2.05" height="10.6" fill="#a67fd0"/>
<rect x="952.76" y="180.8" width="2.05" height="10.6" fill="#a67fd0"/>
<text x="48.9" y="186.68" font-size="12.3" text-anchor="end" fill="#111">5%</text>
<text x="1144.8" y="189.48" font-size="12.3" font-style="italic" fill="#111">ALK</text>
<rect x="1208.3" y="180.7" width="1.7" height="7.9" fill="#4a8fc6"/>
<rect x="1210" y="180.7" width="1.92" height="7.9" fill="#a67fd0"/>
<rect x="720.05" y="194.05" width="2.05" height="10.6" fill="#4a8fc6"/>
<rect x="723.38" y="194.05" width="2.05" height="10.6" fill="#4a8fc6"/>
<rect x="733.35" y="194.05" width="2.05" height="10.6" fill="#4a8fc6"/>
<rect x="736.68" y="194.05" width="2.05" height="10.6" fill="#4a8fc6"/>
<rect x="740" y="194.05" width="2.05" height="10.6" fill="#4a8fc6"/>
<rect x="743.33" y="194.05" width="2.05" height="10.6" fill="#4a8fc6"/>
<rect x="783.22" y="194.05" width="2.05" height="10.6" fill="#4a8fc6"/>
<rect x="799.84" y="194.05" width="2.05" height="10.6" fill="#4a8fc6"/>
<rect x="813.14" y="194.05" width="2.05" height="10.6" fill="#4a8fc6"/>
<rect x="849.71" y="194.05" width="2.05" height="10.6" fill="#4a8fc6"/>
<rect x="853.03" y="194.05" width="2.05" height="10.6" fill="#4a8fc6"/>
<rect x="856.35" y="194.05" width="2.05" height="10.6" fill="#4a8fc6"/>
<rect x="1069.12" y="194.05" width="2.05" height="10.6" fill="#4a8fc6"/>
<rect x="1109.01" y="194.05" width="2.05" height="10.6" fill="#4a8fc6"/>
<rect x="1115.66" y="194.05" width="2.05" height="10.6" fill="#4a8fc6"/>
<rect x="1128.96" y="194.05" width="2.05" height="10.6" fill="#4a8fc6"/>
<text x="48.9" y="199.89" font-size="12.3" text-anchor="end" fill="#111">5%</text>
<text x="1144.8" y="202.69" font-size="12.3" font-style="italic" fill="#111">KRAS</text>
<rect x="1208.3" y="193.95" width="3.41" height="7.9" fill="#4a8fc6"/>
<rect x="134.96" y="207.3" width="2.05" height="10.6" fill="#4dac50"/>
<rect x="257.96" y="207.3" width="2.05" height="10.6" fill="#4dac50"/>
<rect x="387.61" y="207.3" width="2.05" height="5.3" fill="#4dac50"/>
<rect x="387.61" y="212.6" width="2.05" height="5.3" fill="#4a8fc6"/>
<rect x="623.65" y="207.3" width="2.05" height="10.6" fill="#4a8fc6"/>
<rect x="643.59" y="207.3" width="2.05" height="10.6" fill="#4dac50"/>
<rect x="806.49" y="207.3" width="2.05" height="5.3" fill="#4dac50"/>
<rect x="806.49" y="212.6" width="2.05" height="5.3" fill="#4a8fc6"/>
<rect x="819.79" y="207.3" width="2.05" height="10.6" fill="#4a8fc6"/>
<rect x="909.55" y="207.3" width="2.05" height="10.6" fill="#e05257"/>
<rect x="1052.49" y="207.3" width="2.05" height="10.6" fill="#4a8fc6"/>
<rect x="1065.79" y="207.3" width="2.05" height="5.3" fill="#f89a3e"/>
<rect x="1065.79" y="212.6" width="2.05" height="5.3" fill="#4a8fc6"/>
<rect x="1072.44" y="207.3" width="2.05" height="10.6" fill="#4a8fc6"/>
<rect x="1118.98" y="207.3" width="2.05" height="5.3" fill="#4dac50"/>
<rect x="1118.98" y="212.6" width="2.05" height="5.3" fill="#4a8fc6"/>
<text x="48.9" y="213.1" font-size="12.3" text-anchor="end" fill="#111">4%</text>
<text x="1144.8" y="215.9" font-size="12.3" font-style="italic" fill="#111">SETD2</text>
<rect x="1208.3" y="207.2" width="1.7" height="7.9" fill="#4a8fc6"/>
<rect x="1210" y="207.2" width="1.28" height="7.9" fill="#4dac50"/>
<rect x="1211.28" y="207.2" width="0.21" height="7.9" fill="#e05257"/>
<rect x="1211.49" y="207.2" width="0.21" height="7.9" fill="#f89a3e"/>
<rect x="124.99" y="220.55" width="2.05" height="10.6" fill="#4a8fc6"/>
<rect x="417.53" y="220.55" width="2.05" height="10.6" fill="#4a8fc6"/>
<rect x="420.86" y="220.55" width="2.05" height="10.6" fill="#4dac50"/>
<rect x="623.65" y="220.55" width="2.05" height="10.6" fill="#4a8fc6"/>
<rect x="663.54" y="220.55" width="2.05" height="10.6" fill="#4a8fc6"/>
<rect x="666.86" y="220.55" width="2.05" height="10.6" fill="#4dac50"/>
<rect x="696.78" y="220.55" width="2.05" height="10.6" fill="#4a8fc6"/>
<rect x="706.76" y="220.55" width="2.05" height="10.6" fill="#4a8fc6"/>
<rect x="710.08" y="220.55" width="2.05" height="10.6" fill="#4a8fc6"/>
<rect x="952.76" y="220.55" width="2.05" height="10.6" fill="#4dac50"/>
<rect x="956.09" y="220.55" width="2.05" height="10.6" fill="#4dac50"/>
<rect x="1045.85" y="220.55" width="2.05" height="10.6" fill="#4dac50"/>
<rect x="1059.14" y="220.55" width="2.05" height="10.6" fill="#e05257"/>
<text x="48.9" y="226.31" font-size="12.3" text-anchor="end" fill="#111">4%</text>
<text x="1144.8" y="229.11" font-size="12.3" font-style="italic" fill="#111">PTEN</text>
<rect x="1208.3" y="220.45" width="1.49" height="7.9" fill="#4a8fc6"/>
<rect x="1209.79" y="220.45" width="1.06" height="7.9" fill="#4dac50"/>
<rect x="1210.86" y="220.45" width="0.21" height="7.9" fill="#e05257"/>
<rect x="633.62" y="233.8" width="2.05" height="5.3" fill="#4dac50"/>
<rect x="633.62" y="239.1" width="2.05" height="5.3" fill="#4a8fc6"/>
<rect x="706.76" y="233.8" width="2.05" height="10.6" fill="#4a8fc6"/>
<rect x="716.73" y="233.8" width="2.05" height="10.6" fill="#4a8fc6"/>
<rect x="720.05" y="233.8" width="2.05" height="10.6" fill="#4a8fc6"/>
<rect x="723.38" y="233.8" width="2.05" height="10.6" fill="#4a8fc6"/>
<rect x="733.35" y="233.8" width="2.05" height="10.6" fill="#4a8fc6"/>
<rect x="746.65" y="233.8" width="2.05" height="10.6" fill="#4a8fc6"/>
<rect x="749.97" y="233.8" width="2.05" height="10.6" fill="#4a8fc6"/>
<rect x="753.3" y="233.8" width="2.05" height="10.6" fill="#4dac50"/>
<rect x="813.14" y="233.8" width="2.05" height="5.3" fill="#4dac50"/>
<rect x="813.14" y="239.1" width="2.05" height="5.3" fill="#4a8fc6"/>
<rect x="859.68" y="233.8" width="2.05" height="10.6" fill="#4dac50"/>
<text x="48.9" y="239.52" font-size="12.3" text-anchor="end" fill="#111">3%</text>
<text x="1144.8" y="242.32" font-size="12.3" font-style="italic" fill="#111">STK11</text>
<rect x="1208.3" y="233.7" width="1.92" height="7.9" fill="#4a8fc6"/>
<rect x="1210.22" y="233.7" width="0.85" height="7.9" fill="#4dac50"/>
<rect x="424.18" y="247.05" width="2.05" height="10.6" fill="#4a8fc6"/>
<rect x="663.54" y="247.05" width="2.05" height="10.6" fill="#4a8fc6"/>
<rect x="696.78" y="247.05" width="2.05" height="10.6" fill="#4a8fc6"/>
<rect x="726.7" y="247.05" width="2.05" height="10.6" fill="#4a8fc6"/>
<rect x="823.11" y="247.05" width="2.05" height="10.6" fill="#4dac50"/>
<rect x="863" y="247.05" width="2.05" height="10.6" fill="#4a8fc6"/>
<rect x="959.41" y="247.05" width="2.05" height="10.6" fill="#4dac50"/>
<rect x="1025.9" y="247.05" width="2.05" height="10.6" fill="#4a8fc6"/>
<rect x="1045.85" y="247.05" width="2.05" height="10.6" fill="#4a8fc6"/>
<rect x="1049.17" y="247.05" width="2.05" height="10.6" fill="#4a8fc6"/>
<rect x="1122.31" y="247.05" width="2.05" height="10.6" fill="#4a8fc6"/>
<text x="48.9" y="252.73" font-size="12.3" text-anchor="end" fill="#111">3%</text>
<text x="1144.8" y="255.53" font-size="12.3" font-style="italic" fill="#111">APC</text>
<rect x="1208.3" y="246.95" width="1.92" height="7.9" fill="#4a8fc6"/>
<rect x="1210.22" y="246.95" width="0.43" height="7.9" fill="#4dac50"/>
<rect x="404.24" y="260.3" width="2.05" height="10.6" fill="#4a8fc6"/>
<rect x="427.51" y="260.3" width="2.05" height="10.6" fill="#4a8fc6"/>
<rect x="623.65" y="260.3" width="2.05" height="10.6" fill="#4a8fc6"/>
<rect x="706.76" y="260.3" width="2.05" height="10.6" fill="#4a8fc6"/>
<rect x="806.49" y="260.3" width="2.05" height="10.6" fill="#4a8fc6"/>
<rect x="866.33" y="260.3" width="2.05" height="10.6" fill="#4a8fc6"/>
<rect x="869.65" y="260.3" width="2.05" height="10.6" fill="#4a8fc6"/>
<rect x="872.98" y="260.3" width="2.05" height="10.6" fill="#4a8fc6"/>
<rect x="876.3" y="260.3" width="2.05" height="10.6" fill="#4a8fc6"/>
<rect x="879.63" y="260.3" width="2.05" height="10.6" fill="#f89a3e"/>
<rect x="882.95" y="260.3" width="2.05" height="10.6" fill="#4a8fc6"/>
<text x="48.9" y="265.94" font-size="12.3" text-anchor="end" fill="#111">3%</text>
<text x="1144.8" y="268.74" font-size="12.3" font-style="italic" fill="#111">BRAF</text>
<rect x="1208.3" y="260.2" width="2.13" height="7.9" fill="#4a8fc6"/>
<rect x="1210.43" y="260.2" width="0.21" height="7.9" fill="#f89a3e"/>
<rect x="108.36" y="273.55" width="2.05" height="10.6" fill="#4a8fc6"/>
<rect x="430.83" y="273.55" width="2.05" height="10.6" fill="#4a8fc6"/>
<rect x="626.97" y="273.55" width="2.05" height="10.6" fill="#4a8fc6"/>
<rect x="643.59" y="273.55" width="2.05" height="10.6" fill="#4a8fc6"/>
<rect x="653.57" y="273.55" width="2.05" height="10.6" fill="#4a8fc6"/>
<rect x="686.81" y="273.55" width="2.05" height="10.6" fill="#4a8fc6"/>
<rect x="746.65" y="273.55" width="2.05" height="10.6" fill="#4a8fc6"/>
<rect x="886.27" y="273.55" width="2.05" height="10.6" fill="#4a8fc6"/>
<rect x="909.55" y="273.55" width="2.05" height="10.6" fill="#4a8fc6"/>
<rect x="1052.49" y="273.55" width="2.05" height="10.6" fill="#4a8fc6"/>
<rect x="1075.77" y="273.55" width="2.05" height="10.6" fill="#4a8fc6"/>
<text x="48.9" y="279.15" font-size="12.3" text-anchor="end" fill="#111">3%</text>
<text x="1144.8" y="281.95" font-size="12.3" font-style="italic" fill="#111">NOTCH1</text>
<rect x="1208.3" y="273.45" width="2.34" height="7.9" fill="#4a8fc6"/>
<rect x="297.86" y="286.8" width="2.05" height="10.6" fill="#4a8fc6"/>
<rect x="653.57" y="286.8" width="2.05" height="10.6" fill="#4a8fc6"/>
<rect x="686.81" y="286.8" width="2.05" height="10.6" fill="#4a8fc6"/>
<rect x="710.08" y="286.8" width="2.05" height="10.6" fill="#4a8fc6"/>
<rect x="849.71" y="286.8" width="2.05" height="10.6" fill="#4a8fc6"/>
<rect x="942.79" y="286.8" width="2.05" height="10.6" fill="#4dac50"/>
<rect x="1012.6" y="286.8" width="2.05" height="10.6" fill="#f89a3e"/>
<rect x="1109.01" y="286.8" width="2.05" height="10.6" fill="#4a8fc6"/>
<rect x="1112.33" y="286.8" width="2.05" height="10.6" fill="#4a8fc6"/>
<rect x="1125.63" y="286.8" width="2.05" height="10.6" fill="#4dac50"/>
<text x="48.9" y="292.36" font-size="12.3" text-anchor="end" fill="#111">3%</text>
<text x="1144.8" y="295.16" font-size="12.3" font-style="italic" fill="#111">ATM</text>
<rect x="1208.3" y="286.7" width="1.49" height="7.9" fill="#4a8fc6"/>
<rect x="1209.79" y="286.7" width="0.43" height="7.9" fill="#4dac50"/>
<rect x="1210.22" y="286.7" width="0.21" height="7.9" fill="#f89a3e"/>
<rect x="138.28" y="300.05" width="2.05" height="10.6" fill="#4a8fc6"/>
<rect x="274.58" y="300.05" width="2.05" height="10.6" fill="#4a8fc6"/>
<rect x="284.56" y="300.05" width="2.05" height="10.6" fill="#4a8fc6"/>
<rect x="427.51" y="300.05" width="2.05" height="10.6" fill="#4a8fc6"/>
<rect x="434.16" y="300.05" width="2.05" height="10.6" fill="#4a8fc6"/>
<rect x="793.19" y="300.05" width="2.05" height="10.6" fill="#4dac50"/>
<rect x="889.6" y="300.05" width="2.05" height="10.6" fill="#4dac50"/>
<rect x="922.84" y="300.05" width="2.05" height="10.6" fill="#4a8fc6"/>
<rect x="1015.93" y="300.05" width="2.05" height="10.6" fill="#4a8fc6"/>
<rect x="1079.09" y="300.05" width="2.05" height="10.6" fill="#4a8fc6"/>
<text x="48.9" y="305.57" font-size="12.3" text-anchor="end" fill="#111">3%</text>
<text x="1144.8" y="308.37" font-size="12.3" font-style="italic" fill="#111">NF1</text>
<rect x="1208.3" y="299.95" width="1.7" height="7.9" fill="#4a8fc6"/>
<rect x="1210" y="299.95" width="0.43" height="7.9" fill="#4dac50"/>
<rect x="633.62" y="313.3" width="2.05" height="10.6" fill="#e05257"/>
<rect x="726.7" y="313.3" width="2.05" height="10.6" fill="#4dac50"/>
<rect x="886.27" y="313.3" width="2.05" height="10.6" fill="#4a8fc6"/>
<rect x="909.55" y="313.3" width="2.05" height="5.3" fill="#4dac50"/>
<rect x="909.55" y="318.6" width="2.05" height="5.3" fill="#4a8fc6"/>
<rect x="1029.22" y="313.3" width="2.05" height="10.6" fill="#4a8fc6"/>
<rect x="1059.14" y="313.3" width="2.05" height="10.6" fill="#4a8fc6"/>
<rect x="1075.77" y="313.3" width="2.05" height="10.6" fill="#4a8fc6"/>
<rect x="1082.41" y="313.3" width="2.05" height="10.6" fill="#4a8fc6"/>
<rect x="1109.01" y="313.3" width="2.05" height="10.6" fill="#4dac50"/>
<text x="48.9" y="318.78" font-size="12.3" text-anchor="end" fill="#111">3%</text>
<text x="1144.8" y="321.58" font-size="12.3" font-style="italic" fill="#111">ARID1A</text>
<rect x="1208.3" y="313.2" width="1.28" height="7.9" fill="#4a8fc6"/>
<rect x="1209.58" y="313.2" width="0.64" height="7.9" fill="#4dac50"/>
<rect x="1210.22" y="313.2" width="0.21" height="7.9" fill="#e05257"/>
<rect x="141.61" y="326.55" width="2.05" height="10.6" fill="#4a8fc6"/>
<rect x="254.64" y="326.55" width="2.05" height="10.6" fill="#4a8fc6"/>
<rect x="623.65" y="326.55" width="2.05" height="10.6" fill="#4a8fc6"/>
<rect x="633.62" y="326.55" width="2.05" height="10.6" fill="#4dac50"/>
<rect x="749.97" y="326.55" width="2.05" height="10.6" fill="#4a8fc6"/>
<rect x="756.62" y="326.55" width="2.05" height="10.6" fill="#4a8fc6"/>
<rect x="866.33" y="326.55" width="2.05" height="10.6" fill="#4a8fc6"/>
<rect x="1015.93" y="326.55" width="2.05" height="10.6" fill="#4a8fc6"/>
<text x="48.9" y="331.99" font-size="12.3" text-anchor="end" fill="#111">2%</text>
<text x="1144.8" y="334.79" font-size="12.3" font-style="italic" fill="#111">SMARCA4</text>
<rect x="1208.3" y="326.45" width="1.49" height="7.9" fill="#4a8fc6"/>
<rect x="1209.79" y="326.45" width="0.21" height="7.9" fill="#4dac50"/>
<rect x="301.18" y="339.8" width="2.05" height="10.6" fill="#4a8fc6"/>
<rect x="417.53" y="339.8" width="2.05" height="10.6" fill="#4a8fc6"/>
<rect x="437.48" y="339.8" width="2.05" height="10.6" fill="#4a8fc6"/>
<rect x="700.11" y="339.8" width="2.05" height="10.6" fill="#4a8fc6"/>
<rect x="826.44" y="339.8" width="2.05" height="10.6" fill="#4a8fc6"/>
<rect x="962.74" y="339.8" width="2.05" height="10.6" fill="#4a8fc6"/>
<rect x="1132.28" y="339.8" width="2.05" height="10.6" fill="#4a8fc6"/>
<text x="48.9" y="345.2" font-size="12.3" text-anchor="end" fill="#111">2%</text>
<text x="1144.8" y="348" font-size="12.3" font-style="italic" fill="#111">CTNNB1</text>
<rect x="1208.3" y="339.7" width="1.49" height="7.9" fill="#4a8fc6"/>
<rect x="404.24" y="353.05" width="2.05" height="10.6" fill="#4a8fc6"/>
<rect x="680.16" y="353.05" width="2.05" height="10.6" fill="#4a8fc6"/>
<rect x="756.62" y="353.05" width="2.05" height="10.6" fill="#e05257"/>
<rect x="863" y="353.05" width="2.05" height="10.6" fill="#4a8fc6"/>
<rect x="1062.47" y="353.05" width="2.05" height="10.6" fill="#4a8fc6"/>
<rect x="1065.79" y="353.05" width="2.05" height="10.6" fill="#4a8fc6"/>
<rect x="1085.74" y="353.05" width="2.05" height="10.6" fill="#4a8fc6"/>
<text x="48.9" y="358.41" font-size="12.3" text-anchor="end" fill="#111">2%</text>
<text x="1144.8" y="361.21" font-size="12.3" font-style="italic" fill="#111">KEAP1</text>
<rect x="1208.3" y="352.95" width="1.28" height="7.9" fill="#4a8fc6"/>
<rect x="1209.58" y="352.95" width="0.21" height="7.9" fill="#e05257"/>
<rect x="909.55" y="366.3" width="2.05" height="10.6" fill="#e05257"/>
<text x="48.9" y="371.62" font-size="12.3" text-anchor="end" fill="#111">0%</text>
<text x="1144.8" y="374.42" font-size="12.3" font-style="italic" fill="#111">CUX1</text>
<rect x="1208.3" y="366.2" width="0.21" height="7.9" fill="#e05257"/>
<rect x="51.6" y="70.6" width="1090" height="304.2" fill="none" stroke="#222" stroke-width="1.2"/>
<line x1="1207.6" y1="72.1" x2="1260.9" y2="72.1" stroke="#333" stroke-width="1"/>
<line x1="1208.2" y1="68.3" x2="1208.2" y2="72.1" stroke="#333" stroke-width="0.9"/>
<text x="1208.5" y="67.0" font-size="9.3" text-anchor="middle" fill="#222">0</text>
<line x1="1229.5" y1="68.3" x2="1229.5" y2="72.1" stroke="#333" stroke-width="0.9"/>
<text x="1231" y="66.0" font-size="9.3" text-anchor="middle" fill="#222">100</text>
<line x1="1250.8" y1="68.3" x2="1250.8" y2="72.1" stroke="#333" stroke-width="0.9"/>
<text x="1252.3" y="66.0" font-size="9.3" text-anchor="middle" fill="#222">200</text>
<path fill="#0836a0" d="M51.6 389.4H909.11V401.6H51.6z"/>
<path fill="#d20238" d="M909.11 389.4H1141.6V401.6H909.11z"/>
<path stroke="#fff" stroke-width="1.0" fill="none" d="M54.73 389.4V401.6M58.06 389.4V401.6M61.38 389.4V401.6M64.71 389.4V401.6M68.03 389.4V401.6M71.36 389.4V401.6M74.68 389.4V401.6M78.01 389.4V401.6M81.33 389.4V401.6M84.65 389.4V401.6M87.98 389.4V401.6M91.3 389.4V401.6M94.63 389.4V401.6M97.95 389.4V401.6M101.28 389.4V401.6M104.6 389.4V401.6M107.92 389.4V401.6M111.25 389.4V401.6M114.57 389.4V401.6M117.9 389.4V401.6M121.22 389.4V401.6M124.55 389.4V401.6M127.87 389.4V401.6M131.2 389.4V401.6M134.52 389.4V401.6M137.84 389.4V401.6M141.17 389.4V401.6M144.49 389.4V401.6M147.82 389.4V401.6M151.14 389.4V401.6M154.47 389.4V401.6M157.79 389.4V401.6M161.12 389.4V401.6M164.44 389.4V401.6M167.76 389.4V401.6M171.09 389.4V401.6M174.41 389.4V401.6M177.74 389.4V401.6M181.06 389.4V401.6M184.39 389.4V401.6M187.71 389.4V401.6M191.03 389.4V401.6M194.36 389.4V401.6M197.68 389.4V401.6M201.01 389.4V401.6M204.33 389.4V401.6M207.66 389.4V401.6M210.98 389.4V401.6M214.31 389.4V401.6M217.63 389.4V401.6M220.95 389.4V401.6M224.28 389.4V401.6M227.6 389.4V401.6M230.93 389.4V401.6M234.25 389.4V401.6M237.58 389.4V401.6M240.9 389.4V401.6M244.23 389.4V401.6M247.55 389.4V401.6M250.87 389.4V401.6M254.2 389.4V401.6M257.52 389.4V401.6M260.85 389.4V401.6M264.17 389.4V401.6M267.5 389.4V401.6M270.82 389.4V401.6M274.14 389.4V401.6M277.47 389.4V401.6M280.79 389.4V401.6M284.12 389.4V401.6M287.44 389.4V401.6M290.77 389.4V401.6M294.09 389.4V401.6M297.42 389.4V401.6M300.74 389.4V401.6M304.06 389.4V401.6M307.39 389.4V401.6M310.71 389.4V401.6M314.04 389.4V401.6M317.36 389.4V401.6M320.69 389.4V401.6M324.01 389.4V401.6M327.34 389.4V401.6M330.66 389.4V401.6M333.98 389.4V401.6M337.31 389.4V401.6M340.63 389.4V401.6M343.96 389.4V401.6M347.28 389.4V401.6M350.61 389.4V401.6M353.93 389.4V401.6M357.25 389.4V401.6M360.58 389.4V401.6M363.9 389.4V401.6M367.23 389.4V401.6M370.55 389.4V401.6M373.88 389.4V401.6M377.2 389.4V401.6M380.53 389.4V401.6M383.85 389.4V401.6M387.17 389.4V401.6M390.5 389.4V401.6M393.82 389.4V401.6M397.15 389.4V401.6M400.47 389.4V401.6M403.8 389.4V401.6M407.12 389.4V401.6M410.45 389.4V401.6M413.77 389.4V401.6M417.09 389.4V401.6M420.42 389.4V401.6M423.74 389.4V401.6M427.07 389.4V401.6M430.39 389.4V401.6M433.72 389.4V401.6M437.04 389.4V401.6M440.36 389.4V401.6M443.69 389.4V401.6M447.01 389.4V401.6M450.34 389.4V401.6M453.66 389.4V401.6M456.99 389.4V401.6M460.31 389.4V401.6M463.64 389.4V401.6M466.96 389.4V401.6M470.28 389.4V401.6M473.61 389.4V401.6M476.93 389.4V401.6M480.26 389.4V401.6M483.58 389.4V401.6M486.91 389.4V401.6M490.23 389.4V401.6M493.56 389.4V401.6M496.88 389.4V401.6M500.2 389.4V401.6M503.53 389.4V401.6M506.85 389.4V401.6M510.18 389.4V401.6M513.5 389.4V401.6M516.83 389.4V401.6M520.15 389.4V401.6M523.47 389.4V401.6M526.8 389.4V401.6M530.12 389.4V401.6M533.45 389.4V401.6M536.77 389.4V401.6M540.1 389.4V401.6M543.42 389.4V401.6M546.75 389.4V401.6M550.07 389.4V401.6M553.39 389.4V401.6M556.72 389.4V401.6M560.04 389.4V401.6M563.37 389.4V401.6M566.69 389.4V401.6M570.02 389.4V401.6M573.34 389.4V401.6M576.67 389.4V401.6M579.99 389.4V401.6M583.31 389.4V401.6M586.64 389.4V401.6M589.96 389.4V401.6M593.29 389.4V401.6M596.61 389.4V401.6M599.94 389.4V401.6M603.26 389.4V401.6M606.58 389.4V401.6M609.91 389.4V401.6M613.23 389.4V401.6M616.56 389.4V401.6M619.88 389.4V401.6M623.21 389.4V401.6M626.53 389.4V401.6M629.86 389.4V401.6M633.18 389.4V401.6M636.5 389.4V401.6M639.83 389.4V401.6M643.15 389.4V401.6M646.48 389.4V401.6M649.8 389.4V401.6M653.13 389.4V401.6M656.45 389.4V401.6M659.78 389.4V401.6M663.1 389.4V401.6M666.42 389.4V401.6M669.75 389.4V401.6M673.07 389.4V401.6M676.4 389.4V401.6M679.72 389.4V401.6M683.05 389.4V401.6M686.37 389.4V401.6M689.69 389.4V401.6M693.02 389.4V401.6M696.34 389.4V401.6M699.67 389.4V401.6M702.99 389.4V401.6M706.32 389.4V401.6M709.64 389.4V401.6M712.97 389.4V401.6M716.29 389.4V401.6M719.61 389.4V401.6M722.94 389.4V401.6M726.26 389.4V401.6M729.59 389.4V401.6M732.91 389.4V401.6M736.24 389.4V401.6M739.56 389.4V401.6M742.89 389.4V401.6M746.21 389.4V401.6M749.53 389.4V401.6M752.86 389.4V401.6M756.18 389.4V401.6M759.51 389.4V401.6M762.83 389.4V401.6M766.16 389.4V401.6M769.48 389.4V401.6M772.8 389.4V401.6M776.13 389.4V401.6M779.45 389.4V401.6M782.78 389.4V401.6M786.1 389.4V401.6M789.43 389.4V401.6M792.75 389.4V401.6M796.08 389.4V401.6M799.4 389.4V401.6M802.72 389.4V401.6M806.05 389.4V401.6M809.37 389.4V401.6M812.7 389.4V401.6M816.02 389.4V401.6M819.35 389.4V401.6M822.67 389.4V401.6M826 389.4V401.6M829.32 389.4V401.6M832.64 389.4V401.6M835.97 389.4V401.6M839.29 389.4V401.6M842.62 389.4V401.6M845.94 389.4V401.6M849.27 389.4V401.6M852.59 389.4V401.6M855.91 389.4V401.6M859.24 389.4V401.6M862.56 389.4V401.6M865.89 389.4V401.6M869.21 389.4V401.6M872.54 389.4V401.6M875.86 389.4V401.6M879.19 389.4V401.6M882.51 389.4V401.6M885.83 389.4V401.6M889.16 389.4V401.6M892.48 389.4V401.6M895.81 389.4V401.6M899.13 389.4V401.6M902.46 389.4V401.6M905.78 389.4V401.6M909.11 389.4V401.6M912.43 389.4V401.6M915.75 389.4V401.6M919.08 389.4V401.6M922.4 389.4V401.6M925.73 389.4V401.6M929.05 389.4V401.6M932.38 389.4V401.6M935.7 389.4V401.6M939.02 389.4V401.6M942.35 389.4V401.6M945.67 389.4V401.6M949 389.4V401.6M952.32 389.4V401.6M955.65 389.4V401.6M958.97 389.4V401.6M962.3 389.4V401.6M965.62 389.4V401.6M968.94 389.4V401.6M972.27 389.4V401.6M975.59 389.4V401.6M978.92 389.4V401.6M982.24 389.4V401.6M985.57 389.4V401.6M988.89 389.4V401.6M992.22 389.4V401.6M995.54 389.4V401.6M998.86 389.4V401.6M1002.19 389.4V401.6M1005.51 389.4V401.6M1008.84 389.4V401.6M1012.16 389.4V401.6M1015.49 389.4V401.6M1018.81 389.4V401.6M1022.13 389.4V401.6M1025.46 389.4V401.6M1028.78 389.4V401.6M1032.11 389.4V401.6M1035.43 389.4V401.6M1038.76 389.4V401.6M1042.08 389.4V401.6M1045.41 389.4V401.6M1048.73 389.4V401.6M1052.05 389.4V401.6M1055.38 389.4V401.6M1058.7 389.4V401.6M1062.03 389.4V401.6M1065.35 389.4V401.6M1068.68 389.4V401.6M1072 389.4V401.6M1075.33 389.4V401.6M1078.65 389.4V401.6M1081.97 389.4V401.6M1085.3 389.4V401.6M1088.62 389.4V401.6M1091.95 389.4V401.6M1095.27 389.4V401.6M1098.6 389.4V401.6M1101.92 389.4V401.6M1105.24 389.4V401.6M1108.57 389.4V401.6M1111.89 389.4V401.6M1115.22 389.4V401.6M1118.54 389.4V401.6M1121.87 389.4V401.6M1125.19 389.4V401.6M1128.52 389.4V401.6M1131.84 389.4V401.6M1135.16 389.4V401.6M1138.49 389.4V401.6"/>
<rect x="51.6" y="388.8" width="1090" height="13.4" fill="none" stroke="#000" stroke-width="1.3"/>
<text x="1144.8" y="399.5" font-size="12.6" font-weight="bold" fill="#000">Relapse status</text>
<path fill="#cccccc" d="M51.6 420.2H54.73V431.8H51.6zM702.99 420.2H706.32V431.8H702.99zM746.21 420.2H749.53V431.8H746.21zM899.13 420.2H902.46V431.8H899.13zM998.86 420.2H1002.19V431.8H998.86zM1022.13 420.2H1025.46V431.8H1022.13zM1135.16 420.2H1138.49V431.8H1135.16z"/>
<path fill="#0836a0" d="M54.73 420.2H107.92V431.8H54.73zM111.25 420.2H267.5V431.8H111.25zM270.82 420.2H393.82V431.8H270.82zM397.15 420.2H403.8V431.8H397.15zM407.12 420.2H629.86V431.8H407.12zM633.18 420.2H643.15V431.8H633.18zM653.13 420.2H656.45V431.8H653.13zM693.02 420.2H696.34V431.8H693.02zM706.32 420.2H709.64V431.8H706.32zM712.97 420.2H729.59V431.8H712.97zM732.91 420.2H746.21V431.8H732.91zM749.53 420.2H769.48V431.8H749.53zM776.13 420.2H779.45V431.8H776.13zM782.78 420.2H792.75V431.8H782.78zM796.08 420.2H799.4V431.8H796.08zM802.72 420.2H899.13V431.8H802.72zM902.46 420.2H909.11V431.8H902.46zM912.43 420.2H998.86V431.8H912.43zM1002.19 420.2H1022.13V431.8H1002.19zM1025.46 420.2H1042.08V431.8H1025.46zM1048.73 420.2H1052.05V431.8H1048.73zM1065.35 420.2H1072V431.8H1065.35zM1085.3 420.2H1095.27V431.8H1085.3zM1098.6 420.2H1101.92V431.8H1098.6zM1105.24 420.2H1111.89V431.8H1105.24zM1115.22 420.2H1135.16V431.8H1115.22zM1138.49 420.2H1141.6V431.8H1138.49z"/>
<path fill="#d20238" d="M107.92 420.2H111.25V431.8H107.92zM267.5 420.2H270.82V431.8H267.5zM393.82 420.2H397.15V431.8H393.82zM403.8 420.2H407.12V431.8H403.8zM629.86 420.2H633.18V431.8H629.86zM643.15 420.2H653.13V431.8H643.15zM656.45 420.2H693.02V431.8H656.45zM696.34 420.2H702.99V431.8H696.34zM709.64 420.2H712.97V431.8H709.64zM729.59 420.2H732.91V431.8H729.59zM769.48 420.2H776.13V431.8H769.48zM779.45 420.2H782.78V431.8H779.45zM792.75 420.2H796.08V431.8H792.75zM799.4 420.2H802.72V431.8H799.4zM909.11 420.2H912.43V431.8H909.11zM1042.08 420.2H1048.73V431.8H1042.08zM1052.05 420.2H1065.35V431.8H1052.05zM1072 420.2H1085.3V431.8H1072zM1095.27 420.2H1098.6V431.8H1095.27zM1101.92 420.2H1105.24V431.8H1101.92zM1111.89 420.2H1115.22V431.8H1111.89z"/>
<text x="1144.8" y="430" font-size="12.3" fill="#111">Histology</text>
<path fill="#fdbf05" d="M51.6 433.62H54.73V445.22H51.6zM71.36 433.62H74.68V445.22H71.36zM111.25 433.62H114.57V445.22H111.25zM124.55 433.62H131.2V445.22H124.55zM144.49 433.62H147.82V445.22H144.49zM181.06 433.62H184.39V445.22H181.06zM234.25 433.62H237.58V445.22H234.25zM240.9 433.62H244.23V445.22H240.9zM247.55 433.62H254.2V445.22H247.55zM373.88 433.62H377.2V445.22H373.88zM417.09 433.62H420.42V445.22H417.09zM466.96 433.62H470.28V445.22H466.96zM530.12 433.62H533.45V445.22H530.12zM540.1 433.62H543.42V445.22H540.1zM623.21 433.62H626.53V445.22H623.21zM633.18 433.62H636.5V445.22H633.18zM659.78 433.62H663.1V445.22H659.78zM666.42 433.62H669.75V445.22H666.42zM673.07 433.62H676.4V445.22H673.07zM689.69 433.62H696.34V445.22H689.69zM702.99 433.62H706.32V445.22H702.99zM726.26 433.62H729.59V445.22H726.26zM749.53 433.62H759.51V445.22H749.53zM895.81 433.62H899.13V445.22H895.81zM922.4 433.62H929.05V445.22H922.4zM935.7 433.62H942.35V445.22H935.7zM955.65 433.62H958.97V445.22H955.65zM972.27 433.62H975.59V445.22H972.27zM992.22 433.62H995.54V445.22H992.22zM998.86 433.62H1002.19V445.22H998.86zM1022.13 433.62H1028.78V445.22H1022.13zM1062.03 433.62H1065.35V445.22H1062.03zM1072 433.62H1075.33V445.22H1072zM1078.65 433.62H1081.97V445.22H1078.65zM1085.3 433.62H1088.62V445.22H1085.3zM1105.24 433.62H1108.57V445.22H1105.24zM1111.89 433.62H1115.22V445.22H1111.89zM1118.54 433.62H1121.87V445.22H1118.54zM1125.19 433.62H1135.16V445.22H1125.19z"/>
<path fill="#f9f1a2" d="M54.73 433.62H68.03V445.22H54.73zM74.68 433.62H78.01V445.22H74.68zM81.33 433.62H87.98V445.22H81.33zM91.3 433.62H107.92V445.22H91.3zM114.57 433.62H124.55V445.22H114.57zM131.2 433.62H141.17V445.22H131.2zM147.82 433.62H164.44V445.22H147.82zM167.76 433.62H177.74V445.22H167.76zM184.39 433.62H207.66V445.22H184.39zM210.98 433.62H214.31V445.22H210.98zM217.63 433.62H224.28V445.22H217.63zM227.6 433.62H234.25V445.22H227.6zM237.58 433.62H240.9V445.22H237.58zM244.23 433.62H247.55V445.22H244.23zM254.2 433.62H373.88V445.22H254.2zM377.2 433.62H393.82V445.22H377.2zM397.15 433.62H403.8V445.22H397.15zM407.12 433.62H410.45V445.22H407.12zM413.77 433.62H417.09V445.22H413.77zM420.42 433.62H423.74V445.22H420.42zM427.07 433.62H433.72V445.22H427.07zM437.04 433.62H466.96V445.22H437.04zM470.28 433.62H473.61V445.22H470.28zM476.93 433.62H503.53V445.22H476.93zM506.85 433.62H520.15V445.22H506.85zM523.47 433.62H530.12V445.22H523.47zM533.45 433.62H540.1V445.22H533.45zM543.42 433.62H563.37V445.22H543.42zM566.69 433.62H623.21V445.22H566.69zM626.53 433.62H633.18V445.22H626.53zM636.5 433.62H646.48V445.22H636.5zM649.8 433.62H659.78V445.22H649.8zM676.4 433.62H683.05V445.22H676.4zM686.37 433.62H689.69V445.22H686.37zM706.32 433.62H722.94V445.22H706.32zM729.59 433.62H749.53V445.22H729.59zM759.51 433.62H766.16V445.22H759.51zM769.48 433.62H792.75V445.22H769.48zM796.08 433.62H799.4V445.22H796.08zM802.72 433.62H812.7V445.22H802.72zM816.02 433.62H842.62V445.22H816.02zM849.27 433.62H852.59V445.22H849.27zM855.91 433.62H895.81V445.22H855.91zM899.13 433.62H919.08V445.22H899.13zM929.05 433.62H935.7V445.22H929.05zM942.35 433.62H945.67V445.22H942.35zM949 433.62H952.32V445.22H949zM958.97 433.62H968.94V445.22H958.97zM975.59 433.62H992.22V445.22H975.59zM995.54 433.62H998.86V445.22H995.54zM1005.51 433.62H1008.84V445.22H1005.51zM1012.16 433.62H1022.13V445.22H1012.16zM1028.78 433.62H1042.08V445.22H1028.78zM1045.41 433.62H1055.38V445.22H1045.41zM1058.7 433.62H1062.03V445.22H1058.7zM1065.35 433.62H1072V445.22H1065.35zM1075.33 433.62H1078.65V445.22H1075.33zM1088.62 433.62H1098.6V445.22H1088.62zM1101.92 433.62H1105.24V445.22H1101.92zM1108.57 433.62H1111.89V445.22H1108.57zM1115.22 433.62H1118.54V445.22H1115.22zM1121.87 433.62H1125.19V445.22H1121.87zM1135.16 433.62H1141.6V445.22H1135.16z"/>
<path fill="#efd577" d="M68.03 433.62H71.36V445.22H68.03zM78.01 433.62H81.33V445.22H78.01zM87.98 433.62H91.3V445.22H87.98zM107.92 433.62H111.25V445.22H107.92zM141.17 433.62H144.49V445.22H141.17zM164.44 433.62H167.76V445.22H164.44zM177.74 433.62H181.06V445.22H177.74zM207.66 433.62H210.98V445.22H207.66zM214.31 433.62H217.63V445.22H214.31zM224.28 433.62H227.6V445.22H224.28zM393.82 433.62H397.15V445.22H393.82zM403.8 433.62H407.12V445.22H403.8zM410.45 433.62H413.77V445.22H410.45zM423.74 433.62H427.07V445.22H423.74zM433.72 433.62H437.04V445.22H433.72zM473.61 433.62H476.93V445.22H473.61zM503.53 433.62H506.85V445.22H503.53zM520.15 433.62H523.47V445.22H520.15zM563.37 433.62H566.69V445.22H563.37zM646.48 433.62H649.8V445.22H646.48zM663.1 433.62H666.42V445.22H663.1zM669.75 433.62H673.07V445.22H669.75zM683.05 433.62H686.37V445.22H683.05zM696.34 433.62H702.99V445.22H696.34zM722.94 433.62H726.26V445.22H722.94zM766.16 433.62H769.48V445.22H766.16zM792.75 433.62H796.08V445.22H792.75zM799.4 433.62H802.72V445.22H799.4zM812.7 433.62H816.02V445.22H812.7zM842.62 433.62H849.27V445.22H842.62zM852.59 433.62H855.91V445.22H852.59zM919.08 433.62H922.4V445.22H919.08zM945.67 433.62H949V445.22H945.67zM952.32 433.62H955.65V445.22H952.32zM968.94 433.62H972.27V445.22H968.94zM1002.19 433.62H1005.51V445.22H1002.19zM1008.84 433.62H1012.16V445.22H1008.84zM1042.08 433.62H1045.41V445.22H1042.08zM1055.38 433.62H1058.7V445.22H1055.38zM1081.97 433.62H1085.3V445.22H1081.97zM1098.6 433.62H1101.92V445.22H1098.6z"/>
<text x="1144.8" y="443.4" font-size="12.3" fill="#111">TNM stage</text>
<path fill="#e8402e" d="M51.6 447.04H58.06V458.64H51.6zM64.71 447.04H74.68V458.64H64.71zM78.01 447.04H84.65V458.64H78.01zM87.98 447.04H94.63V458.64H87.98zM104.6 447.04H117.9V458.64H104.6zM124.55 447.04H127.87V458.64H124.55zM134.52 447.04H141.17V458.64H134.52zM164.44 447.04H167.76V458.64H164.44zM177.74 447.04H181.06V458.64H177.74zM184.39 447.04H187.71V458.64H184.39zM191.03 447.04H194.36V458.64H191.03zM201.01 447.04H204.33V458.64H201.01zM207.66 447.04H210.98V458.64H207.66zM214.31 447.04H217.63V458.64H214.31zM230.93 447.04H234.25V458.64H230.93zM250.87 447.04H270.82V458.64H250.87zM274.14 447.04H277.47V458.64H274.14zM280.79 447.04H300.74V458.64H280.79zM307.39 447.04H314.04V458.64H307.39zM320.69 447.04H324.01V458.64H320.69zM327.34 447.04H330.66V458.64H327.34zM333.98 447.04H337.31V458.64H333.98zM340.63 447.04H343.96V458.64H340.63zM350.61 447.04H353.93V458.64H350.61zM360.58 447.04H383.85V458.64H360.58zM387.17 447.04H393.82V458.64H387.17zM403.8 447.04H413.77V458.64H403.8zM417.09 447.04H423.74V458.64H417.09zM427.07 447.04H430.39V458.64H427.07zM433.72 447.04H437.04V458.64H433.72zM440.36 447.04H443.69V458.64H440.36zM447.01 447.04H450.34V458.64H447.01zM453.66 447.04H456.99V458.64H453.66zM463.64 447.04H466.96V458.64H463.64zM483.58 447.04H486.91V458.64H483.58zM513.5 447.04H516.83V458.64H513.5zM520.15 447.04H536.77V458.64H520.15zM540.1 447.04H553.39V458.64H540.1zM560.04 447.04H563.37V458.64H560.04zM583.31 447.04H586.64V458.64H583.31zM596.61 447.04H599.94V458.64H596.61zM626.53 447.04H633.18V458.64H626.53zM636.5 447.04H639.83V458.64H636.5zM643.15 447.04H646.48V458.64H643.15zM649.8 447.04H656.45V458.64H649.8zM659.78 447.04H663.1V458.64H659.78zM666.42 447.04H669.75V458.64H666.42zM673.07 447.04H679.72V458.64H673.07zM683.05 447.04H686.37V458.64H683.05zM689.69 447.04H696.34V458.64H689.69zM709.64 447.04H716.29V458.64H709.64zM726.26 447.04H732.91V458.64H726.26zM736.24 447.04H739.56V458.64H736.24zM742.89 447.04H749.53V458.64H742.89zM752.86 447.04H766.16V458.64H752.86zM769.48 447.04H776.13V458.64H769.48zM779.45 447.04H796.08V458.64H779.45zM806.05 447.04H812.7V458.64H806.05zM842.62 447.04H845.94V458.64H842.62zM849.27 447.04H852.59V458.64H849.27zM859.24 447.04H865.89V458.64H859.24zM879.19 447.04H882.51V458.64H879.19zM889.16 447.04H899.13V458.64H889.16zM905.78 447.04H909.11V458.64H905.78zM912.43 447.04H922.4V458.64H912.43zM925.73 447.04H929.05V458.64H925.73zM935.7 447.04H945.67V458.64H935.7zM952.32 447.04H958.97V458.64H952.32zM972.27 447.04H978.92V458.64H972.27zM982.24 447.04H988.89V458.64H982.24zM1008.84 447.04H1015.49V458.64H1008.84zM1018.81 447.04H1055.38V458.64H1018.81zM1058.7 447.04H1062.03V458.64H1058.7zM1065.35 447.04H1081.97V458.64H1065.35zM1085.3 447.04H1088.62V458.64H1085.3zM1091.95 447.04H1115.22V458.64H1091.95zM1118.54 447.04H1125.19V458.64H1118.54zM1131.84 447.04H1141.6V458.64H1131.84z"/>
<path fill="#a6dbe9" d="M58.06 447.04H64.71V458.64H58.06zM74.68 447.04H78.01V458.64H74.68zM84.65 447.04H87.98V458.64H84.65zM94.63 447.04H104.6V458.64H94.63zM117.9 447.04H124.55V458.64H117.9zM127.87 447.04H134.52V458.64H127.87zM141.17 447.04H164.44V458.64H141.17zM167.76 447.04H177.74V458.64H167.76zM181.06 447.04H184.39V458.64H181.06zM187.71 447.04H191.03V458.64H187.71zM194.36 447.04H201.01V458.64H194.36zM204.33 447.04H207.66V458.64H204.33zM210.98 447.04H214.31V458.64H210.98zM217.63 447.04H230.93V458.64H217.63zM234.25 447.04H250.87V458.64H234.25zM270.82 447.04H274.14V458.64H270.82zM277.47 447.04H280.79V458.64H277.47zM300.74 447.04H307.39V458.64H300.74zM314.04 447.04H320.69V458.64H314.04zM324.01 447.04H327.34V458.64H324.01zM330.66 447.04H333.98V458.64H330.66zM337.31 447.04H340.63V458.64H337.31zM343.96 447.04H350.61V458.64H343.96zM353.93 447.04H360.58V458.64H353.93zM383.85 447.04H387.17V458.64H383.85zM393.82 447.04H403.8V458.64H393.82zM413.77 447.04H417.09V458.64H413.77zM423.74 447.04H427.07V458.64H423.74zM430.39 447.04H433.72V458.64H430.39zM437.04 447.04H440.36V458.64H437.04zM443.69 447.04H447.01V458.64H443.69zM450.34 447.04H453.66V458.64H450.34zM456.99 447.04H463.64V458.64H456.99zM466.96 447.04H483.58V458.64H466.96zM486.91 447.04H513.5V458.64H486.91zM516.83 447.04H520.15V458.64H516.83zM536.77 447.04H540.1V458.64H536.77zM553.39 447.04H560.04V458.64H553.39zM563.37 447.04H583.31V458.64H563.37zM586.64 447.04H596.61V458.64H586.64zM599.94 447.04H626.53V458.64H599.94zM633.18 447.04H636.5V458.64H633.18zM639.83 447.04H643.15V458.64H639.83zM646.48 447.04H649.8V458.64H646.48zM656.45 447.04H659.78V458.64H656.45zM663.1 447.04H666.42V458.64H663.1zM669.75 447.04H673.07V458.64H669.75zM679.72 447.04H683.05V458.64H679.72zM686.37 447.04H689.69V458.64H686.37zM696.34 447.04H709.64V458.64H696.34zM716.29 447.04H726.26V458.64H716.29zM732.91 447.04H736.24V458.64H732.91zM739.56 447.04H742.89V458.64H739.56zM749.53 447.04H752.86V458.64H749.53zM766.16 447.04H769.48V458.64H766.16zM776.13 447.04H779.45V458.64H776.13zM796.08 447.04H806.05V458.64H796.08zM812.7 447.04H842.62V458.64H812.7zM845.94 447.04H849.27V458.64H845.94zM852.59 447.04H859.24V458.64H852.59zM865.89 447.04H879.19V458.64H865.89zM882.51 447.04H889.16V458.64H882.51zM899.13 447.04H905.78V458.64H899.13zM909.11 447.04H912.43V458.64H909.11zM922.4 447.04H925.73V458.64H922.4zM929.05 447.04H935.7V458.64H929.05zM945.67 447.04H952.32V458.64H945.67zM958.97 447.04H972.27V458.64H958.97zM978.92 447.04H982.24V458.64H978.92zM988.89 447.04H1008.84V458.64H988.89zM1015.49 447.04H1018.81V458.64H1015.49zM1055.38 447.04H1058.7V458.64H1055.38zM1062.03 447.04H1065.35V458.64H1062.03zM1081.97 447.04H1085.3V458.64H1081.97zM1088.62 447.04H1091.95V458.64H1088.62zM1115.22 447.04H1118.54V458.64H1115.22zM1125.19 447.04H1131.84V458.64H1125.19z"/>
<text x="1144.8" y="456.8" font-size="12.3" fill="#111">Age</text>
<path fill="#e8201c" d="M51.6 460.46H58.06V472.06H51.6zM61.38 460.46H64.71V472.06H61.38zM68.03 460.46H71.36V472.06H68.03zM74.68 460.46H78.01V472.06H74.68zM81.33 460.46H84.65V472.06H81.33zM87.98 460.46H91.3V472.06H87.98zM97.95 460.46H101.28V472.06H97.95zM104.6 460.46H107.92V472.06H104.6zM114.57 460.46H121.22V472.06H114.57zM127.87 460.46H134.52V472.06H127.87zM137.84 460.46H141.17V472.06H137.84zM144.49 460.46H164.44V472.06H144.49zM167.76 460.46H171.09V472.06H167.76zM174.41 460.46H191.03V472.06H174.41zM194.36 460.46H197.68V472.06H194.36zM201.01 460.46H214.31V472.06H201.01zM220.95 460.46H237.58V472.06H220.95zM240.9 460.46H244.23V472.06H240.9zM247.55 460.46H257.52V472.06H247.55zM260.85 460.46H274.14V472.06H260.85zM277.47 460.46H280.79V472.06H277.47zM287.44 460.46H290.77V472.06H287.44zM297.42 460.46H300.74V472.06H297.42zM304.06 460.46H307.39V472.06H304.06zM310.71 460.46H314.04V472.06H310.71zM317.36 460.46H327.34V472.06H317.36zM337.31 460.46H347.28V472.06H337.31zM357.25 460.46H367.23V472.06H357.25zM370.55 460.46H380.53V472.06H370.55zM390.5 460.46H397.15V472.06H390.5zM400.47 460.46H403.8V472.06H400.47zM407.12 460.46H410.45V472.06H407.12zM413.77 460.46H423.74V472.06H413.77zM427.07 460.46H433.72V472.06H427.07zM440.36 460.46H453.66V472.06H440.36zM460.31 460.46H463.64V472.06H460.31zM476.93 460.46H513.5V472.06H476.93zM516.83 460.46H526.8V472.06H516.83zM533.45 460.46H543.42V472.06H533.45zM546.75 460.46H586.64V472.06H546.75zM589.96 460.46H613.23V472.06H589.96zM616.56 460.46H619.88V472.06H616.56zM673.07 460.46H676.4V472.06H673.07zM693.02 460.46H696.34V472.06H693.02zM702.99 460.46H706.32V472.06H702.99zM719.61 460.46H722.94V472.06H719.61zM726.26 460.46H729.59V472.06H726.26zM759.51 460.46H762.83V472.06H759.51zM776.13 460.46H779.45V472.06H776.13zM789.43 460.46H792.75V472.06H789.43zM799.4 460.46H806.05V472.06H799.4zM812.7 460.46H826V472.06H812.7zM829.32 460.46H835.97V472.06H829.32zM839.29 460.46H842.62V472.06H839.29zM845.94 460.46H849.27V472.06H845.94zM872.54 460.46H882.51V472.06H872.54zM885.83 460.46H889.16V472.06H885.83zM899.13 460.46H905.78V472.06H899.13zM915.75 460.46H922.4V472.06H915.75zM929.05 460.46H939.02V472.06H929.05zM942.35 460.46H949V472.06H942.35zM958.97 460.46H968.94V472.06H958.97zM972.27 460.46H978.92V472.06H972.27zM982.24 460.46H1005.51V472.06H982.24zM1018.81 460.46H1025.46V472.06H1018.81zM1028.78 460.46H1032.11V472.06H1028.78zM1038.76 460.46H1042.08V472.06H1038.76zM1052.05 460.46H1055.38V472.06H1052.05zM1085.3 460.46H1091.95V472.06H1085.3zM1098.6 460.46H1101.92V472.06H1098.6zM1115.22 460.46H1121.87V472.06H1115.22zM1131.84 460.46H1141.6V472.06H1131.84z"/>
<path fill="#0b7ec8" d="M58.06 460.46H61.38V472.06H58.06zM64.71 460.46H68.03V472.06H64.71zM71.36 460.46H74.68V472.06H71.36zM78.01 460.46H81.33V472.06H78.01zM84.65 460.46H87.98V472.06H84.65zM91.3 460.46H97.95V472.06H91.3zM101.28 460.46H104.6V472.06H101.28zM107.92 460.46H114.57V472.06H107.92zM121.22 460.46H127.87V472.06H121.22zM134.52 460.46H137.84V472.06H134.52zM141.17 460.46H144.49V472.06H141.17zM164.44 460.46H167.76V472.06H164.44zM171.09 460.46H174.41V472.06H171.09zM191.03 460.46H194.36V472.06H191.03zM197.68 460.46H201.01V472.06H197.68zM214.31 460.46H220.95V472.06H214.31zM237.58 460.46H240.9V472.06H237.58zM244.23 460.46H247.55V472.06H244.23zM257.52 460.46H260.85V472.06H257.52zM274.14 460.46H277.47V472.06H274.14zM280.79 460.46H287.44V472.06H280.79zM290.77 460.46H297.42V472.06H290.77zM300.74 460.46H304.06V472.06H300.74zM307.39 460.46H310.71V472.06H307.39zM314.04 460.46H317.36V472.06H314.04zM327.34 460.46H337.31V472.06H327.34zM347.28 460.46H357.25V472.06H347.28zM367.23 460.46H370.55V472.06H367.23zM380.53 460.46H390.5V472.06H380.53zM397.15 460.46H400.47V472.06H397.15zM403.8 460.46H407.12V472.06H403.8zM410.45 460.46H413.77V472.06H410.45zM423.74 460.46H427.07V472.06H423.74zM433.72 460.46H440.36V472.06H433.72zM453.66 460.46H460.31V472.06H453.66zM463.64 460.46H476.93V472.06H463.64zM513.5 460.46H516.83V472.06H513.5zM526.8 460.46H533.45V472.06H526.8zM543.42 460.46H546.75V472.06H543.42zM586.64 460.46H589.96V472.06H586.64zM613.23 460.46H616.56V472.06H613.23zM619.88 460.46H673.07V472.06H619.88zM676.4 460.46H693.02V472.06H676.4zM696.34 460.46H702.99V472.06H696.34zM706.32 460.46H719.61V472.06H706.32zM722.94 460.46H726.26V472.06H722.94zM729.59 460.46H759.51V472.06H729.59zM762.83 460.46H776.13V472.06H762.83zM779.45 460.46H789.43V472.06H779.45zM792.75 460.46H799.4V472.06H792.75zM806.05 460.46H812.7V472.06H806.05zM826 460.46H829.32V472.06H826zM835.97 460.46H839.29V472.06H835.97zM842.62 460.46H845.94V472.06H842.62zM849.27 460.46H872.54V472.06H849.27zM882.51 460.46H885.83V472.06H882.51zM889.16 460.46H899.13V472.06H889.16zM905.78 460.46H915.75V472.06H905.78zM922.4 460.46H929.05V472.06H922.4zM939.02 460.46H942.35V472.06H939.02zM949 460.46H958.97V472.06H949zM968.94 460.46H972.27V472.06H968.94zM978.92 460.46H982.24V472.06H978.92zM1005.51 460.46H1018.81V472.06H1005.51zM1025.46 460.46H1028.78V472.06H1025.46zM1032.11 460.46H1038.76V472.06H1032.11zM1042.08 460.46H1052.05V472.06H1042.08zM1055.38 460.46H1085.3V472.06H1055.38zM1091.95 460.46H1098.6V472.06H1091.95zM1101.92 460.46H1115.22V472.06H1101.92zM1121.87 460.46H1131.84V472.06H1121.87z"/>
<text x="1144.8" y="470.2" font-size="12.3" fill="#111">Sex</text>
<path fill="#f07a14" d="M51.6 473.88H58.06V485.48H51.6zM61.38 473.88H64.71V485.48H61.38zM68.03 473.88H78.01V485.48H68.03zM81.33 473.88H84.65V485.48H81.33zM87.98 473.88H94.63V485.48H87.98zM97.95 473.88H101.28V485.48H97.95zM104.6 473.88H107.92V485.48H104.6zM111.25 473.88H124.55V485.48H111.25zM127.87 473.88H141.17V485.48H127.87zM144.49 473.88H214.31V485.48H144.49zM217.63 473.88H237.58V485.48H217.63zM240.9 473.88H280.79V485.48H240.9zM284.12 473.88H290.77V485.48H284.12zM297.42 473.88H300.74V485.48H297.42zM304.06 473.88H307.39V485.48H304.06zM310.71 473.88H314.04V485.48H310.71zM317.36 473.88H327.34V485.48H317.36zM333.98 473.88H353.93V485.48H333.98zM357.25 473.88H380.53V485.48H357.25zM383.85 473.88H387.17V485.48H383.85zM390.5 473.88H397.15V485.48H390.5zM400.47 473.88H403.8V485.48H400.47zM407.12 473.88H433.72V485.48H407.12zM440.36 473.88H463.64V485.48H440.36zM466.96 473.88H470.28V485.48H466.96zM476.93 473.88H530.12V485.48H476.93zM533.45 473.88H543.42V485.48H533.45zM546.75 473.88H623.21V485.48H546.75zM626.53 473.88H629.86V485.48H626.53zM673.07 473.88H676.4V485.48H673.07zM693.02 473.88H696.34V485.48H693.02zM702.99 473.88H709.64V485.48H702.99zM716.29 473.88H722.94V485.48H716.29zM726.26 473.88H729.59V485.48H726.26zM759.51 473.88H762.83V485.48H759.51zM776.13 473.88H779.45V485.48H776.13zM786.1 473.88H792.75V485.48H786.1zM796.08 473.88H826V485.48H796.08zM829.32 473.88H842.62V485.48H829.32zM845.94 473.88H849.27V485.48H845.94zM855.91 473.88H859.24V485.48H855.91zM872.54 473.88H889.16V485.48H872.54zM902.46 473.88H905.78V485.48H902.46zM909.11 473.88H912.43V485.48H909.11zM915.75 473.88H922.4V485.48H915.75zM925.73 473.88H949V485.48H925.73zM958.97 473.88H978.92V485.48H958.97zM982.24 473.88H1008.84V485.48H982.24zM1015.49 473.88H1042.08V485.48H1015.49zM1065.35 473.88H1072V485.48H1065.35zM1085.3 473.88H1091.95V485.48H1085.3zM1098.6 473.88H1101.92V485.48H1098.6zM1115.22 473.88H1128.52V485.48H1115.22zM1131.84 473.88H1141.6V485.48H1131.84z"/>
<path fill="#712d91" d="M58.06 473.88H61.38V485.48H58.06zM64.71 473.88H68.03V485.48H64.71zM78.01 473.88H81.33V485.48H78.01zM84.65 473.88H87.98V485.48H84.65zM94.63 473.88H97.95V485.48H94.63zM101.28 473.88H104.6V485.48H101.28zM107.92 473.88H111.25V485.48H107.92zM124.55 473.88H127.87V485.48H124.55zM141.17 473.88H144.49V485.48H141.17zM214.31 473.88H217.63V485.48H214.31zM237.58 473.88H240.9V485.48H237.58zM280.79 473.88H284.12V485.48H280.79zM290.77 473.88H297.42V485.48H290.77zM300.74 473.88H304.06V485.48H300.74zM307.39 473.88H310.71V485.48H307.39zM314.04 473.88H317.36V485.48H314.04zM327.34 473.88H333.98V485.48H327.34zM353.93 473.88H357.25V485.48H353.93zM380.53 473.88H383.85V485.48H380.53zM387.17 473.88H390.5V485.48H387.17zM397.15 473.88H400.47V485.48H397.15zM403.8 473.88H407.12V485.48H403.8zM433.72 473.88H440.36V485.48H433.72zM463.64 473.88H466.96V485.48H463.64zM470.28 473.88H476.93V485.48H470.28zM530.12 473.88H533.45V485.48H530.12zM543.42 473.88H546.75V485.48H543.42zM623.21 473.88H626.53V485.48H623.21zM629.86 473.88H673.07V485.48H629.86zM676.4 473.88H693.02V485.48H676.4zM696.34 473.88H702.99V485.48H696.34zM709.64 473.88H716.29V485.48H709.64zM722.94 473.88H726.26V485.48H722.94zM729.59 473.88H759.51V485.48H729.59zM762.83 473.88H776.13V485.48H762.83zM779.45 473.88H786.1V485.48H779.45zM792.75 473.88H796.08V485.48H792.75zM826 473.88H829.32V485.48H826zM842.62 473.88H845.94V485.48H842.62zM849.27 473.88H855.91V485.48H849.27zM859.24 473.88H872.54V485.48H859.24zM889.16 473.88H902.46V485.48H889.16zM905.78 473.88H909.11V485.48H905.78zM912.43 473.88H915.75V485.48H912.43zM922.4 473.88H925.73V485.48H922.4zM949 473.88H958.97V485.48H949zM978.92 473.88H982.24V485.48H978.92zM1008.84 473.88H1015.49V485.48H1008.84zM1042.08 473.88H1065.35V485.48H1042.08zM1072 473.88H1085.3V485.48H1072zM1091.95 473.88H1098.6V485.48H1091.95zM1101.92 473.88H1115.22V485.48H1101.92zM1128.52 473.88H1131.84V485.48H1128.52z"/>
<text x="1144.8" y="483.6" font-size="12.3" fill="#111">Smoking</text>
<path fill="#f20c12" d="M51.6 487.3H58.06V498.9H51.6zM64.71 487.3H74.68V498.9H64.71zM78.01 487.3H84.65V498.9H78.01zM87.98 487.3H91.3V498.9H87.98zM107.92 487.3H114.57V498.9H107.92zM117.9 487.3H121.22V498.9H117.9zM124.55 487.3H131.2V498.9H124.55zM134.52 487.3H151.14V498.9H134.52zM164.44 487.3H167.76V498.9H164.44zM177.74 487.3H184.39V498.9H177.74zM197.68 487.3H201.01V498.9H197.68zM204.33 487.3H210.98V498.9H204.33zM214.31 487.3H217.63V498.9H214.31zM224.28 487.3H227.6V498.9H224.28zM234.25 487.3H237.58V498.9H234.25zM240.9 487.3H244.23V498.9H240.9zM247.55 487.3H254.2V498.9H247.55zM257.52 487.3H260.85V498.9H257.52zM264.17 487.3H270.82V498.9H264.17zM277.47 487.3H280.79V498.9H277.47zM373.88 487.3H377.2V498.9H373.88zM393.82 487.3H397.15V498.9H393.82zM403.8 487.3H407.12V498.9H403.8zM410.45 487.3H413.77V498.9H410.45zM417.09 487.3H420.42V498.9H417.09zM423.74 487.3H427.07V498.9H423.74zM430.39 487.3H433.72V498.9H430.39zM466.96 487.3H470.28V498.9H466.96zM473.61 487.3H476.93V498.9H473.61zM503.53 487.3H513.5V498.9H503.53zM516.83 487.3H523.47V498.9H516.83zM530.12 487.3H533.45V498.9H530.12zM540.1 487.3H543.42V498.9H540.1zM563.37 487.3H566.69V498.9H563.37zM576.67 487.3H579.99V498.9H576.67zM623.21 487.3H626.53V498.9H623.21zM633.18 487.3H636.5V498.9H633.18zM639.83 487.3H643.15V498.9H639.83zM646.48 487.3H649.8V498.9H646.48zM653.13 487.3H676.4V498.9H653.13zM686.37 487.3H706.32V498.9H686.37zM712.97 487.3H716.29V498.9H712.97zM722.94 487.3H729.59V498.9H722.94zM732.91 487.3H736.24V498.9H732.91zM746.21 487.3H759.51V498.9H746.21zM766.16 487.3H769.48V498.9H766.16zM772.8 487.3H776.13V498.9H772.8zM799.4 487.3H802.72V498.9H799.4zM819.35 487.3H822.67V498.9H819.35zM842.62 487.3H849.27V498.9H842.62zM865.89 487.3H869.21V498.9H865.89zM879.19 487.3H882.51V498.9H879.19zM895.81 487.3H899.13V498.9H895.81zM919.08 487.3H922.4V498.9H919.08zM925.73 487.3H955.65V498.9H925.73zM958.97 487.3H975.59V498.9H958.97zM978.92 487.3H982.24V498.9H978.92zM992.22 487.3H1008.84V498.9H992.22zM1022.13 487.3H1032.11V498.9H1022.13zM1035.43 487.3H1038.76V498.9H1035.43zM1042.08 487.3H1045.41V498.9H1042.08zM1048.73 487.3H1052.05V498.9H1048.73zM1055.38 487.3H1058.7V498.9H1055.38zM1062.03 487.3H1085.3V498.9H1062.03zM1095.27 487.3H1098.6V498.9H1095.27zM1101.92 487.3H1108.57V498.9H1101.92zM1111.89 487.3H1115.22V498.9H1111.89zM1118.54 487.3H1121.87V498.9H1118.54zM1125.19 487.3H1135.16V498.9H1125.19z"/>
<path fill="#0c4c9c" d="M58.06 487.3H64.71V498.9H58.06zM74.68 487.3H78.01V498.9H74.68zM84.65 487.3H87.98V498.9H84.65zM91.3 487.3H107.92V498.9H91.3zM114.57 487.3H117.9V498.9H114.57zM121.22 487.3H124.55V498.9H121.22zM131.2 487.3H134.52V498.9H131.2zM151.14 487.3H164.44V498.9H151.14zM167.76 487.3H177.74V498.9H167.76zM184.39 487.3H197.68V498.9H184.39zM201.01 487.3H204.33V498.9H201.01zM210.98 487.3H214.31V498.9H210.98zM217.63 487.3H224.28V498.9H217.63zM227.6 487.3H234.25V498.9H227.6zM237.58 487.3H240.9V498.9H237.58zM244.23 487.3H247.55V498.9H244.23zM254.2 487.3H257.52V498.9H254.2zM260.85 487.3H264.17V498.9H260.85zM270.82 487.3H277.47V498.9H270.82zM280.79 487.3H373.88V498.9H280.79zM377.2 487.3H393.82V498.9H377.2zM397.15 487.3H403.8V498.9H397.15zM407.12 487.3H410.45V498.9H407.12zM413.77 487.3H417.09V498.9H413.77zM420.42 487.3H423.74V498.9H420.42zM427.07 487.3H430.39V498.9H427.07zM433.72 487.3H466.96V498.9H433.72zM470.28 487.3H473.61V498.9H470.28zM476.93 487.3H503.53V498.9H476.93zM513.5 487.3H516.83V498.9H513.5zM523.47 487.3H530.12V498.9H523.47zM533.45 487.3H540.1V498.9H533.45zM543.42 487.3H563.37V498.9H543.42zM566.69 487.3H576.67V498.9H566.69zM579.99 487.3H623.21V498.9H579.99zM626.53 487.3H633.18V498.9H626.53zM636.5 487.3H639.83V498.9H636.5zM643.15 487.3H646.48V498.9H643.15zM649.8 487.3H653.13V498.9H649.8zM676.4 487.3H686.37V498.9H676.4zM706.32 487.3H712.97V498.9H706.32zM716.29 487.3H722.94V498.9H716.29zM729.59 487.3H732.91V498.9H729.59zM736.24 487.3H746.21V498.9H736.24zM759.51 487.3H766.16V498.9H759.51zM769.48 487.3H772.8V498.9H769.48zM776.13 487.3H799.4V498.9H776.13zM802.72 487.3H819.35V498.9H802.72zM822.67 487.3H842.62V498.9H822.67zM849.27 487.3H865.89V498.9H849.27zM869.21 487.3H879.19V498.9H869.21zM882.51 487.3H895.81V498.9H882.51zM899.13 487.3H919.08V498.9H899.13zM922.4 487.3H925.73V498.9H922.4zM955.65 487.3H958.97V498.9H955.65zM975.59 487.3H978.92V498.9H975.59zM982.24 487.3H992.22V498.9H982.24zM1008.84 487.3H1022.13V498.9H1008.84zM1032.11 487.3H1035.43V498.9H1032.11zM1038.76 487.3H1042.08V498.9H1038.76zM1045.41 487.3H1048.73V498.9H1045.41zM1052.05 487.3H1055.38V498.9H1052.05zM1058.7 487.3H1062.03V498.9H1058.7zM1085.3 487.3H1095.27V498.9H1085.3zM1098.6 487.3H1101.92V498.9H1098.6zM1108.57 487.3H1111.89V498.9H1108.57zM1115.22 487.3H1118.54V498.9H1115.22zM1121.87 487.3H1125.19V498.9H1121.87zM1135.16 487.3H1141.6V498.9H1135.16z"/>
<text x="1144.8" y="497" font-size="12.3" fill="#111">Adjuvant therapy</text>
<path fill="#f07a14" d="M51.6 500.72H54.73V512.32H51.6zM68.03 500.72H71.36V512.32H68.03zM78.01 500.72H81.33V512.32H78.01zM107.92 500.72H111.25V512.32H107.92zM114.57 500.72H121.22V512.32H114.57zM141.17 500.72H144.49V512.32H141.17zM191.03 500.72H194.36V512.32H191.03zM197.68 500.72H201.01V512.32H197.68zM207.66 500.72H210.98V512.32H207.66zM214.31 500.72H217.63V512.32H214.31zM234.25 500.72H237.58V512.32H234.25zM247.55 500.72H250.87V512.32H247.55zM264.17 500.72H270.82V512.32H264.17zM287.44 500.72H290.77V512.32H287.44zM393.82 500.72H397.15V512.32H393.82zM423.74 500.72H427.07V512.32H423.74zM433.72 500.72H437.04V512.32H433.72zM463.64 500.72H466.96V512.32H463.64zM503.53 500.72H513.5V512.32H503.53zM576.67 500.72H579.99V512.32H576.67zM606.58 500.72H613.23V512.32H606.58zM619.88 500.72H623.21V512.32H619.88zM629.86 500.72H636.5V512.32H629.86zM646.48 500.72H649.8V512.32H646.48zM653.13 500.72H659.78V512.32H653.13zM663.1 500.72H669.75V512.32H663.1zM673.07 500.72H679.72V512.32H673.07zM683.05 500.72H712.97V512.32H683.05zM722.94 500.72H729.59V512.32H722.94zM732.91 500.72H736.24V512.32H732.91zM749.53 500.72H752.86V512.32H749.53zM786.1 500.72H789.43V512.32H786.1zM792.75 500.72H796.08V512.32H792.75zM799.4 500.72H802.72V512.32H799.4zM812.7 500.72H816.02V512.32H812.7zM842.62 500.72H845.94V512.32H842.62zM852.59 500.72H855.91V512.32H852.59zM865.89 500.72H869.21V512.32H865.89zM882.51 500.72H885.83V512.32H882.51zM899.13 500.72H902.46V512.32H899.13zM922.4 500.72H929.05V512.32H922.4zM945.67 500.72H952.32V512.32H945.67zM958.97 500.72H962.3V512.32H958.97zM968.94 500.72H975.59V512.32H968.94zM985.57 500.72H988.89V512.32H985.57zM995.54 500.72H998.86V512.32H995.54zM1002.19 500.72H1008.84V512.32H1002.19zM1015.49 500.72H1018.81V512.32H1015.49zM1025.46 500.72H1032.11V512.32H1025.46zM1038.76 500.72H1045.41V512.32H1038.76zM1048.73 500.72H1072V512.32H1048.73zM1075.33 500.72H1088.62V512.32H1075.33zM1091.95 500.72H1098.6V512.32H1091.95zM1101.92 500.72H1105.24V512.32H1101.92zM1108.57 500.72H1121.87V512.32H1108.57zM1131.84 500.72H1141.6V512.32H1131.84z"/>
<path fill="#712d91" d="M54.73 500.72H68.03V512.32H54.73zM71.36 500.72H78.01V512.32H71.36zM81.33 500.72H107.92V512.32H81.33zM111.25 500.72H114.57V512.32H111.25zM121.22 500.72H141.17V512.32H121.22zM144.49 500.72H191.03V512.32H144.49zM194.36 500.72H197.68V512.32H194.36zM201.01 500.72H207.66V512.32H201.01zM210.98 500.72H214.31V512.32H210.98zM217.63 500.72H234.25V512.32H217.63zM237.58 500.72H247.55V512.32H237.58zM250.87 500.72H264.17V512.32H250.87zM270.82 500.72H287.44V512.32H270.82zM290.77 500.72H393.82V512.32H290.77zM397.15 500.72H423.74V512.32H397.15zM427.07 500.72H433.72V512.32H427.07zM437.04 500.72H463.64V512.32H437.04zM466.96 500.72H503.53V512.32H466.96zM513.5 500.72H576.67V512.32H513.5zM579.99 500.72H606.58V512.32H579.99zM613.23 500.72H619.88V512.32H613.23zM623.21 500.72H629.86V512.32H623.21zM636.5 500.72H646.48V512.32H636.5zM649.8 500.72H653.13V512.32H649.8zM659.78 500.72H663.1V512.32H659.78zM669.75 500.72H673.07V512.32H669.75zM679.72 500.72H683.05V512.32H679.72zM712.97 500.72H722.94V512.32H712.97zM729.59 500.72H732.91V512.32H729.59zM736.24 500.72H749.53V512.32H736.24zM752.86 500.72H786.1V512.32H752.86zM789.43 500.72H792.75V512.32H789.43zM796.08 500.72H799.4V512.32H796.08zM802.72 500.72H812.7V512.32H802.72zM816.02 500.72H842.62V512.32H816.02zM845.94 500.72H852.59V512.32H845.94zM855.91 500.72H865.89V512.32H855.91zM869.21 500.72H882.51V512.32H869.21zM885.83 500.72H899.13V512.32H885.83zM902.46 500.72H922.4V512.32H902.46zM929.05 500.72H945.67V512.32H929.05zM952.32 500.72H958.97V512.32H952.32zM962.3 500.72H968.94V512.32H962.3zM975.59 500.72H985.57V512.32H975.59zM988.89 500.72H995.54V512.32H988.89zM998.86 500.72H1002.19V512.32H998.86zM1008.84 500.72H1015.49V512.32H1008.84zM1018.81 500.72H1025.46V512.32H1018.81zM1032.11 500.72H1038.76V512.32H1032.11zM1045.41 500.72H1048.73V512.32H1045.41zM1072 500.72H1075.33V512.32H1072zM1088.62 500.72H1091.95V512.32H1088.62zM1098.6 500.72H1101.92V512.32H1098.6zM1105.24 500.72H1108.57V512.32H1105.24zM1121.87 500.72H1131.84V512.32H1121.87z"/>
<text x="1144.8" y="510.4" font-size="12.3" fill="#111">Tumor size</text>
<path stroke="#fff" stroke-width="1.0" fill="none" d="M54.73 420.2V512.32M58.06 420.2V512.32M61.38 420.2V512.32M64.71 420.2V512.32M68.03 420.2V512.32M71.36 420.2V512.32M74.68 420.2V512.32M78.01 420.2V512.32M81.33 420.2V512.32M84.65 420.2V512.32M87.98 420.2V512.32M91.3 420.2V512.32M94.63 420.2V512.32M97.95 420.2V512.32M101.28 420.2V512.32M104.6 420.2V512.32M107.92 420.2V512.32M111.25 420.2V512.32M114.57 420.2V512.32M117.9 420.2V512.32M121.22 420.2V512.32M124.55 420.2V512.32M127.87 420.2V512.32M131.2 420.2V512.32M134.52 420.2V512.32M137.84 420.2V512.32M141.17 420.2V512.32M144.49 420.2V512.32M147.82 420.2V512.32M151.14 420.2V512.32M154.47 420.2V512.32M157.79 420.2V512.32M161.12 420.2V512.32M164.44 420.2V512.32M167.76 420.2V512.32M171.09 420.2V512.32M174.41 420.2V512.32M177.74 420.2V512.32M181.06 420.2V512.32M184.39 420.2V512.32M187.71 420.2V512.32M191.03 420.2V512.32M194.36 420.2V512.32M197.68 420.2V512.32M201.01 420.2V512.32M204.33 420.2V512.32M207.66 420.2V512.32M210.98 420.2V512.32M214.31 420.2V512.32M217.63 420.2V512.32M220.95 420.2V512.32M224.28 420.2V512.32M227.6 420.2V512.32M230.93 420.2V512.32M234.25 420.2V512.32M237.58 420.2V512.32M240.9 420.2V512.32M244.23 420.2V512.32M247.55 420.2V512.32M250.87 420.2V512.32M254.2 420.2V512.32M257.52 420.2V512.32M260.85 420.2V512.32M264.17 420.2V512.32M267.5 420.2V512.32M270.82 420.2V512.32M274.14 420.2V512.32M277.47 420.2V512.32M280.79 420.2V512.32M284.12 420.2V512.32M287.44 420.2V512.32M290.77 420.2V512.32M294.09 420.2V512.32M297.42 420.2V512.32M300.74 420.2V512.32M304.06 420.2V512.32M307.39 420.2V512.32M310.71 420.2V512.32M314.04 420.2V512.32M317.36 420.2V512.32M320.69 420.2V512.32M324.01 420.2V512.32M327.34 420.2V512.32M330.66 420.2V512.32M333.98 420.2V512.32M337.31 420.2V512.32M340.63 420.2V512.32M343.96 420.2V512.32M347.28 420.2V512.32M350.61 420.2V512.32M353.93 420.2V512.32M357.25 420.2V512.32M360.58 420.2V512.32M363.9 420.2V512.32M367.23 420.2V512.32M370.55 420.2V512.32M373.88 420.2V512.32M377.2 420.2V512.32M380.53 420.2V512.32M383.85 420.2V512.32M387.17 420.2V512.32M390.5 420.2V512.32M393.82 420.2V512.32M397.15 420.2V512.32M400.47 420.2V512.32M403.8 420.2V512.32M407.12 420.2V512.32M410.45 420.2V512.32M413.77 420.2V512.32M417.09 420.2V512.32M420.42 420.2V512.32M423.74 420.2V512.32M427.07 420.2V512.32M430.39 420.2V512.32M433.72 420.2V512.32M437.04 420.2V512.32M440.36 420.2V512.32M443.69 420.2V512.32M447.01 420.2V512.32M450.34 420.2V512.32M453.66 420.2V512.32M456.99 420.2V512.32M460.31 420.2V512.32M463.64 420.2V512.32M466.96 420.2V512.32M470.28 420.2V512.32M473.61 420.2V512.32M476.93 420.2V512.32M480.26 420.2V512.32M483.58 420.2V512.32M486.91 420.2V512.32M490.23 420.2V512.32M493.56 420.2V512.32M496.88 420.2V512.32M500.2 420.2V512.32M503.53 420.2V512.32M506.85 420.2V512.32M510.18 420.2V512.32M513.5 420.2V512.32M516.83 420.2V512.32M520.15 420.2V512.32M523.47 420.2V512.32M526.8 420.2V512.32M530.12 420.2V512.32M533.45 420.2V512.32M536.77 420.2V512.32M540.1 420.2V512.32M543.42 420.2V512.32M546.75 420.2V512.32M550.07 420.2V512.32M553.39 420.2V512.32M556.72 420.2V512.32M560.04 420.2V512.32M563.37 420.2V512.32M566.69 420.2V512.32M570.02 420.2V512.32M573.34 420.2V512.32M576.67 420.2V512.32M579.99 420.2V512.32M583.31 420.2V512.32M586.64 420.2V512.32M589.96 420.2V512.32M593.29 420.2V512.32M596.61 420.2V512.32M599.94 420.2V512.32M603.26 420.2V512.32M606.58 420.2V512.32M609.91 420.2V512.32M613.23 420.2V512.32M616.56 420.2V512.32M619.88 420.2V512.32M623.21 420.2V512.32M626.53 420.2V512.32M629.86 420.2V512.32M633.18 420.2V512.32M636.5 420.2V512.32M639.83 420.2V512.32M643.15 420.2V512.32M646.48 420.2V512.32M649.8 420.2V512.32M653.13 420.2V512.32M656.45 420.2V512.32M659.78 420.2V512.32M663.1 420.2V512.32M666.42 420.2V512.32M669.75 420.2V512.32M673.07 420.2V512.32M676.4 420.2V512.32M679.72 420.2V512.32M683.05 420.2V512.32M686.37 420.2V512.32M689.69 420.2V512.32M693.02 420.2V512.32M696.34 420.2V512.32M699.67 420.2V512.32M702.99 420.2V512.32M706.32 420.2V512.32M709.64 420.2V512.32M712.97 420.2V512.32M716.29 420.2V512.32M719.61 420.2V512.32M722.94 420.2V512.32M726.26 420.2V512.32M729.59 420.2V512.32M732.91 420.2V512.32M736.24 420.2V512.32M739.56 420.2V512.32M742.89 420.2V512.32M746.21 420.2V512.32M749.53 420.2V512.32M752.86 420.2V512.32M756.18 420.2V512.32M759.51 420.2V512.32M762.83 420.2V512.32M766.16 420.2V512.32M769.48 420.2V512.32M772.8 420.2V512.32M776.13 420.2V512.32M779.45 420.2V512.32M782.78 420.2V512.32M786.1 420.2V512.32M789.43 420.2V512.32M792.75 420.2V512.32M796.08 420.2V512.32M799.4 420.2V512.32M802.72 420.2V512.32M806.05 420.2V512.32M809.37 420.2V512.32M812.7 420.2V512.32M816.02 420.2V512.32M819.35 420.2V512.32M822.67 420.2V512.32M826 420.2V512.32M829.32 420.2V512.32M832.64 420.2V512.32M835.97 420.2V512.32M839.29 420.2V512.32M842.62 420.2V512.32M845.94 420.2V512.32M849.27 420.2V512.32M852.59 420.2V512.32M855.91 420.2V512.32M859.24 420.2V512.32M862.56 420.2V512.32M865.89 420.2V512.32M869.21 420.2V512.32M872.54 420.2V512.32M875.86 420.2V512.32M879.19 420.2V512.32M882.51 420.2V512.32M885.83 420.2V512.32M889.16 420.2V512.32M892.48 420.2V512.32M895.81 420.2V512.32M899.13 420.2V512.32M902.46 420.2V512.32M905.78 420.2V512.32M909.11 420.2V512.32M912.43 420.2V512.32M915.75 420.2V512.32M919.08 420.2V512.32M922.4 420.2V512.32M925.73 420.2V512.32M929.05 420.2V512.32M932.38 420.2V512.32M935.7 420.2V512.32M939.02 420.2V512.32M942.35 420.2V512.32M945.67 420.2V512.32M949 420.2V512.32M952.32 420.2V512.32M955.65 420.2V512.32M958.97 420.2V512.32M962.3 420.2V512.32M965.62 420.2V512.32M968.94 420.2V512.32M972.27 420.2V512.32M975.59 420.2V512.32M978.92 420.2V512.32M982.24 420.2V512.32M985.57 420.2V512.32M988.89 420.2V512.32M992.22 420.2V512.32M995.54 420.2V512.32M998.86 420.2V512.32M1002.19 420.2V512.32M1005.51 420.2V512.32M1008.84 420.2V512.32M1012.16 420.2V512.32M1015.49 420.2V512.32M1018.81 420.2V512.32M1022.13 420.2V512.32M1025.46 420.2V512.32M1028.78 420.2V512.32M1032.11 420.2V512.32M1035.43 420.2V512.32M1038.76 420.2V512.32M1042.08 420.2V512.32M1045.41 420.2V512.32M1048.73 420.2V512.32M1052.05 420.2V512.32M1055.38 420.2V512.32M1058.7 420.2V512.32M1062.03 420.2V512.32M1065.35 420.2V512.32M1068.68 420.2V512.32M1072 420.2V512.32M1075.33 420.2V512.32M1078.65 420.2V512.32M1081.97 420.2V512.32M1085.3 420.2V512.32M1088.62 420.2V512.32M1091.95 420.2V512.32M1095.27 420.2V512.32M1098.6 420.2V512.32M1101.92 420.2V512.32M1105.24 420.2V512.32M1108.57 420.2V512.32M1111.89 420.2V512.32M1115.22 420.2V512.32M1118.54 420.2V512.32M1121.87 420.2V512.32M1125.19 420.2V512.32M1128.52 420.2V512.32M1131.84 420.2V512.32M1135.16 420.2V512.32M1138.49 420.2V512.32"/>
<rect x="51.6" y="419.6" width="1090" height="12.8" fill="none" stroke="#000" stroke-width="1.3"/>
<rect x="51.6" y="433.02" width="1090" height="12.8" fill="none" stroke="#000" stroke-width="1.3"/>
<rect x="51.6" y="446.44" width="1090" height="12.8" fill="none" stroke="#000" stroke-width="1.3"/>
<rect x="51.6" y="459.86" width="1090" height="12.8" fill="none" stroke="#000" stroke-width="1.3"/>
<rect x="51.6" y="473.28" width="1090" height="12.8" fill="none" stroke="#000" stroke-width="1.3"/>
<rect x="51.6" y="486.7" width="1090" height="12.8" fill="none" stroke="#000" stroke-width="1.3"/>
<rect x="51.6" y="500.12" width="1090" height="12.8" fill="none" stroke="#000" stroke-width="1.3"/>
<text x="1142.6" y="539.3" font-size="13.1" font-weight="bold" fill="#000">ctDNA status</text>
<path fill="#a82222" d="M51.6 543.7H54.73V555.3H51.6zM68.03 543.7H71.36V555.3H68.03zM78.01 543.7H84.65V555.3H78.01zM107.92 543.7H111.25V555.3H107.92zM124.55 543.7H127.87V555.3H124.55zM141.17 543.7H144.49V555.3H141.17zM224.28 543.7H227.6V555.3H224.28zM240.9 543.7H244.23V555.3H240.9zM267.5 543.7H270.82V555.3H267.5zM393.82 543.7H397.15V555.3H393.82zM623.21 543.7H626.53V555.3H623.21zM629.86 543.7H636.5V555.3H629.86zM639.83 543.7H669.75V555.3H639.83zM673.07 543.7H676.4V555.3H673.07zM683.05 543.7H706.32V555.3H683.05zM709.64 543.7H716.29V555.3H709.64zM746.21 543.7H752.86V555.3H746.21zM792.75 543.7H796.08V555.3H792.75zM799.4 543.7H802.72V555.3H799.4zM912.43 543.7H915.75V555.3H912.43zM919.08 543.7H932.38V555.3H919.08zM935.7 543.7H939.02V555.3H935.7zM955.65 543.7H958.97V555.3H955.65zM968.94 543.7H975.59V555.3H968.94zM995.54 543.7H998.86V555.3H995.54zM1005.51 543.7H1008.84V555.3H1005.51zM1025.46 543.7H1028.78V555.3H1025.46zM1042.08 543.7H1068.68V555.3H1042.08zM1075.33 543.7H1091.95V555.3H1075.33zM1095.27 543.7H1105.24V555.3H1095.27zM1108.57 543.7H1115.22V555.3H1108.57zM1125.19 543.7H1128.52V555.3H1125.19zM1135.16 543.7H1138.49V555.3H1135.16z"/>
<path fill="#5b8ad8" d="M54.73 543.7H68.03V555.3H54.73zM71.36 543.7H78.01V555.3H71.36zM84.65 543.7H107.92V555.3H84.65zM111.25 543.7H124.55V555.3H111.25zM127.87 543.7H141.17V555.3H127.87zM144.49 543.7H224.28V555.3H144.49zM227.6 543.7H240.9V555.3H227.6zM244.23 543.7H267.5V555.3H244.23zM270.82 543.7H393.82V555.3H270.82zM397.15 543.7H623.21V555.3H397.15zM626.53 543.7H629.86V555.3H626.53zM636.5 543.7H639.83V555.3H636.5zM669.75 543.7H673.07V555.3H669.75zM676.4 543.7H683.05V555.3H676.4zM706.32 543.7H709.64V555.3H706.32zM716.29 543.7H746.21V555.3H716.29zM752.86 543.7H792.75V555.3H752.86zM796.08 543.7H799.4V555.3H796.08zM802.72 543.7H912.43V555.3H802.72zM915.75 543.7H919.08V555.3H915.75zM932.38 543.7H935.7V555.3H932.38zM939.02 543.7H955.65V555.3H939.02zM958.97 543.7H968.94V555.3H958.97zM975.59 543.7H995.54V555.3H975.59zM998.86 543.7H1005.51V555.3H998.86zM1008.84 543.7H1025.46V555.3H1008.84zM1028.78 543.7H1042.08V555.3H1028.78zM1068.68 543.7H1075.33V555.3H1068.68zM1091.95 543.7H1095.27V555.3H1091.95zM1105.24 543.7H1108.57V555.3H1105.24zM1115.22 543.7H1125.19V555.3H1115.22zM1128.52 543.7H1135.16V555.3H1128.52zM1138.49 543.7H1141.6V555.3H1138.49z"/>
<text x="1145.2" y="554.7" font-size="12.3" fill="#111">Preoperative</text>
<path fill="#5b8ad8" d="M51.6 557.1H124.55V568.7H51.6zM127.87 557.1H131.2V568.7H127.87zM134.52 557.1H144.49V568.7H134.52zM147.82 557.1H157.79V568.7H147.82zM161.12 557.1H181.06V568.7H161.12zM187.71 557.1H201.01V568.7H187.71zM204.33 557.1H220.95V568.7H204.33zM224.28 557.1H237.58V568.7H224.28zM244.23 557.1H343.96V568.7H244.23zM347.28 557.1H360.58V568.7H347.28zM363.9 557.1H370.55V568.7H363.9zM373.88 557.1H400.47V568.7H373.88zM403.8 557.1H447.01V568.7H403.8zM450.34 557.1H456.99V568.7H450.34zM460.31 557.1H463.64V568.7H460.31zM470.28 557.1H490.23V568.7H470.28zM496.88 557.1H513.5V568.7H496.88zM520.15 557.1H523.47V568.7H520.15zM526.8 557.1H546.75V568.7H526.8zM550.07 557.1H563.37V568.7H550.07zM566.69 557.1H626.53V568.7H566.69zM629.86 557.1H656.45V568.7H629.86zM659.78 557.1H673.07V568.7H659.78zM676.4 557.1H726.26V568.7H676.4zM729.59 557.1H802.72V568.7H729.59zM806.05 557.1H899.13V568.7H806.05zM905.78 557.1H919.08V568.7H905.78zM932.38 557.1H955.65V568.7H932.38zM958.97 557.1H978.92V568.7H958.97zM982.24 557.1H988.89V568.7H982.24zM992.22 557.1H1005.51V568.7H992.22zM1008.84 557.1H1032.11V568.7H1008.84zM1035.43 557.1H1042.08V568.7H1035.43zM1045.41 557.1H1052.05V568.7H1045.41zM1055.38 557.1H1062.03V568.7H1055.38zM1065.35 557.1H1068.68V568.7H1065.35zM1072 557.1H1078.65V568.7H1072zM1081.97 557.1H1085.3V568.7H1081.97zM1091.95 557.1H1098.6V568.7H1091.95zM1101.92 557.1H1105.24V568.7H1101.92zM1111.89 557.1H1125.19V568.7H1111.89zM1128.52 557.1H1141.6V568.7H1128.52z"/>
<path fill="#a82222" d="M124.55 557.1H127.87V568.7H124.55zM144.49 557.1H147.82V568.7H144.49zM240.9 557.1H244.23V568.7H240.9zM726.26 557.1H729.59V568.7H726.26zM919.08 557.1H925.73V568.7H919.08zM955.65 557.1H958.97V568.7H955.65zM978.92 557.1H982.24V568.7H978.92zM1005.51 557.1H1008.84V568.7H1005.51zM1032.11 557.1H1035.43V568.7H1032.11zM1042.08 557.1H1045.41V568.7H1042.08zM1078.65 557.1H1081.97V568.7H1078.65zM1085.3 557.1H1091.95V568.7H1085.3zM1098.6 557.1H1101.92V568.7H1098.6zM1105.24 557.1H1111.89V568.7H1105.24zM1125.19 557.1H1128.52V568.7H1125.19z"/>
<path fill="#c8c8c8" d="M131.2 557.1H134.52V568.7H131.2zM157.79 557.1H161.12V568.7H157.79zM181.06 557.1H187.71V568.7H181.06zM201.01 557.1H204.33V568.7H201.01zM220.95 557.1H224.28V568.7H220.95zM237.58 557.1H240.9V568.7H237.58zM343.96 557.1H347.28V568.7H343.96zM360.58 557.1H363.9V568.7H360.58zM370.55 557.1H373.88V568.7H370.55zM400.47 557.1H403.8V568.7H400.47zM447.01 557.1H450.34V568.7H447.01zM456.99 557.1H460.31V568.7H456.99zM463.64 557.1H470.28V568.7H463.64zM490.23 557.1H496.88V568.7H490.23zM513.5 557.1H520.15V568.7H513.5zM523.47 557.1H526.8V568.7H523.47zM546.75 557.1H550.07V568.7H546.75zM563.37 557.1H566.69V568.7H563.37zM626.53 557.1H629.86V568.7H626.53zM656.45 557.1H659.78V568.7H656.45zM673.07 557.1H676.4V568.7H673.07zM802.72 557.1H806.05V568.7H802.72zM899.13 557.1H905.78V568.7H899.13zM925.73 557.1H932.38V568.7H925.73zM988.89 557.1H992.22V568.7H988.89zM1052.05 557.1H1055.38V568.7H1052.05zM1062.03 557.1H1065.35V568.7H1062.03zM1068.68 557.1H1072V568.7H1068.68z"/>
<text x="1145.2" y="568.15" font-size="12.3" fill="#111">Postoperative 3 days</text>
<path fill="#5b8ad8" d="M51.6 570.5H117.9V582.1H51.6zM121.22 570.5H144.49V582.1H121.22zM147.82 570.5H240.9V582.1H147.82zM244.23 570.5H377.2V582.1H244.23zM380.53 570.5H430.39V582.1H380.53zM433.72 570.5H626.53V582.1H433.72zM629.86 570.5H656.45V582.1H629.86zM659.78 570.5H912.43V582.1H659.78zM915.75 570.5H919.08V582.1H915.75zM929.05 570.5H945.67V582.1H929.05zM952.32 570.5H955.65V582.1H952.32zM958.97 570.5H995.54V582.1H958.97zM998.86 570.5H1005.51V582.1H998.86zM1008.84 570.5H1058.7V582.1H1008.84zM1062.03 570.5H1065.35V582.1H1062.03zM1068.68 570.5H1078.65V582.1H1068.68zM1081.97 570.5H1085.3V582.1H1081.97zM1091.95 570.5H1095.27V582.1H1091.95zM1101.92 570.5H1108.57V582.1H1101.92zM1111.89 570.5H1125.19V582.1H1111.89zM1128.52 570.5H1141.6V582.1H1128.52z"/>
<path fill="#c8c8c8" d="M117.9 570.5H121.22V582.1H117.9zM377.2 570.5H380.53V582.1H377.2zM430.39 570.5H433.72V582.1H430.39zM626.53 570.5H629.86V582.1H626.53zM945.67 570.5H949V582.1H945.67zM1095.27 570.5H1098.6V582.1H1095.27z"/>
<path fill="#a82222" d="M144.49 570.5H147.82V582.1H144.49zM240.9 570.5H244.23V582.1H240.9zM656.45 570.5H659.78V582.1H656.45zM912.43 570.5H915.75V582.1H912.43zM919.08 570.5H929.05V582.1H919.08zM949 570.5H952.32V582.1H949zM955.65 570.5H958.97V582.1H955.65zM995.54 570.5H998.86V582.1H995.54zM1005.51 570.5H1008.84V582.1H1005.51zM1058.7 570.5H1062.03V582.1H1058.7zM1065.35 570.5H1068.68V582.1H1065.35zM1078.65 570.5H1081.97V582.1H1078.65zM1085.3 570.5H1091.95V582.1H1085.3zM1098.6 570.5H1101.92V582.1H1098.6zM1108.57 570.5H1111.89V582.1H1108.57zM1125.19 570.5H1128.52V582.1H1125.19z"/>
<text x="1145.2" y="581.6" font-size="12.3" fill="#111" textLength="111.5" lengthAdjust="spacingAndGlyphs">Postoperative 1 month</text>
<path stroke="#fff" stroke-width="1.0" fill="none" d="M54.73 543.7V582.1M58.06 543.7V582.1M61.38 543.7V582.1M64.71 543.7V582.1M68.03 543.7V582.1M71.36 543.7V582.1M74.68 543.7V582.1M78.01 543.7V582.1M81.33 543.7V582.1M84.65 543.7V582.1M87.98 543.7V582.1M91.3 543.7V582.1M94.63 543.7V582.1M97.95 543.7V582.1M101.28 543.7V582.1M104.6 543.7V582.1M107.92 543.7V582.1M111.25 543.7V582.1M114.57 543.7V582.1M117.9 543.7V582.1M121.22 543.7V582.1M124.55 543.7V582.1M127.87 543.7V582.1M131.2 543.7V582.1M134.52 543.7V582.1M137.84 543.7V582.1M141.17 543.7V582.1M144.49 543.7V582.1M147.82 543.7V582.1M151.14 543.7V582.1M154.47 543.7V582.1M157.79 543.7V582.1M161.12 543.7V582.1M164.44 543.7V582.1M167.76 543.7V582.1M171.09 543.7V582.1M174.41 543.7V582.1M177.74 543.7V582.1M181.06 543.7V582.1M184.39 543.7V582.1M187.71 543.7V582.1M191.03 543.7V582.1M194.36 543.7V582.1M197.68 543.7V582.1M201.01 543.7V582.1M204.33 543.7V582.1M207.66 543.7V582.1M210.98 543.7V582.1M214.31 543.7V582.1M217.63 543.7V582.1M220.95 543.7V582.1M224.28 543.7V582.1M227.6 543.7V582.1M230.93 543.7V582.1M234.25 543.7V582.1M237.58 543.7V582.1M240.9 543.7V582.1M244.23 543.7V582.1M247.55 543.7V582.1M250.87 543.7V582.1M254.2 543.7V582.1M257.52 543.7V582.1M260.85 543.7V582.1M264.17 543.7V582.1M267.5 543.7V582.1M270.82 543.7V582.1M274.14 543.7V582.1M277.47 543.7V582.1M280.79 543.7V582.1M284.12 543.7V582.1M287.44 543.7V582.1M290.77 543.7V582.1M294.09 543.7V582.1M297.42 543.7V582.1M300.74 543.7V582.1M304.06 543.7V582.1M307.39 543.7V582.1M310.71 543.7V582.1M314.04 543.7V582.1M317.36 543.7V582.1M320.69 543.7V582.1M324.01 543.7V582.1M327.34 543.7V582.1M330.66 543.7V582.1M333.98 543.7V582.1M337.31 543.7V582.1M340.63 543.7V582.1M343.96 543.7V582.1M347.28 543.7V582.1M350.61 543.7V582.1M353.93 543.7V582.1M357.25 543.7V582.1M360.58 543.7V582.1M363.9 543.7V582.1M367.23 543.7V582.1M370.55 543.7V582.1M373.88 543.7V582.1M377.2 543.7V582.1M380.53 543.7V582.1M383.85 543.7V582.1M387.17 543.7V582.1M390.5 543.7V582.1M393.82 543.7V582.1M397.15 543.7V582.1M400.47 543.7V582.1M403.8 543.7V582.1M407.12 543.7V582.1M410.45 543.7V582.1M413.77 543.7V582.1M417.09 543.7V582.1M420.42 543.7V582.1M423.74 543.7V582.1M427.07 543.7V582.1M430.39 543.7V582.1M433.72 543.7V582.1M437.04 543.7V582.1M440.36 543.7V582.1M443.69 543.7V582.1M447.01 543.7V582.1M450.34 543.7V582.1M453.66 543.7V582.1M456.99 543.7V582.1M460.31 543.7V582.1M463.64 543.7V582.1M466.96 543.7V582.1M470.28 543.7V582.1M473.61 543.7V582.1M476.93 543.7V582.1M480.26 543.7V582.1M483.58 543.7V582.1M486.91 543.7V582.1M490.23 543.7V582.1M493.56 543.7V582.1M496.88 543.7V582.1M500.2 543.7V582.1M503.53 543.7V582.1M506.85 543.7V582.1M510.18 543.7V582.1M513.5 543.7V582.1M516.83 543.7V582.1M520.15 543.7V582.1M523.47 543.7V582.1M526.8 543.7V582.1M530.12 543.7V582.1M533.45 543.7V582.1M536.77 543.7V582.1M540.1 543.7V582.1M543.42 543.7V582.1M546.75 543.7V582.1M550.07 543.7V582.1M553.39 543.7V582.1M556.72 543.7V582.1M560.04 543.7V582.1M563.37 543.7V582.1M566.69 543.7V582.1M570.02 543.7V582.1M573.34 543.7V582.1M576.67 543.7V582.1M579.99 543.7V582.1M583.31 543.7V582.1M586.64 543.7V582.1M589.96 543.7V582.1M593.29 543.7V582.1M596.61 543.7V582.1M599.94 543.7V582.1M603.26 543.7V582.1M606.58 543.7V582.1M609.91 543.7V582.1M613.23 543.7V582.1M616.56 543.7V582.1M619.88 543.7V582.1M623.21 543.7V582.1M626.53 543.7V582.1M629.86 543.7V582.1M633.18 543.7V582.1M636.5 543.7V582.1M639.83 543.7V582.1M643.15 543.7V582.1M646.48 543.7V582.1M649.8 543.7V582.1M653.13 543.7V582.1M656.45 543.7V582.1M659.78 543.7V582.1M663.1 543.7V582.1M666.42 543.7V582.1M669.75 543.7V582.1M673.07 543.7V582.1M676.4 543.7V582.1M679.72 543.7V582.1M683.05 543.7V582.1M686.37 543.7V582.1M689.69 543.7V582.1M693.02 543.7V582.1M696.34 543.7V582.1M699.67 543.7V582.1M702.99 543.7V582.1M706.32 543.7V582.1M709.64 543.7V582.1M712.97 543.7V582.1M716.29 543.7V582.1M719.61 543.7V582.1M722.94 543.7V582.1M726.26 543.7V582.1M729.59 543.7V582.1M732.91 543.7V582.1M736.24 543.7V582.1M739.56 543.7V582.1M742.89 543.7V582.1M746.21 543.7V582.1M749.53 543.7V582.1M752.86 543.7V582.1M756.18 543.7V582.1M759.51 543.7V582.1M762.83 543.7V582.1M766.16 543.7V582.1M769.48 543.7V582.1M772.8 543.7V582.1M776.13 543.7V582.1M779.45 543.7V582.1M782.78 543.7V582.1M786.1 543.7V582.1M789.43 543.7V582.1M792.75 543.7V582.1M796.08 543.7V582.1M799.4 543.7V582.1M802.72 543.7V582.1M806.05 543.7V582.1M809.37 543.7V582.1M812.7 543.7V582.1M816.02 543.7V582.1M819.35 543.7V582.1M822.67 543.7V582.1M826 543.7V582.1M829.32 543.7V582.1M832.64 543.7V582.1M835.97 543.7V582.1M839.29 543.7V582.1M842.62 543.7V582.1M845.94 543.7V582.1M849.27 543.7V582.1M852.59 543.7V582.1M855.91 543.7V582.1M859.24 543.7V582.1M862.56 543.7V582.1M865.89 543.7V582.1M869.21 543.7V582.1M872.54 543.7V582.1M875.86 543.7V582.1M879.19 543.7V582.1M882.51 543.7V582.1M885.83 543.7V582.1M889.16 543.7V582.1M892.48 543.7V582.1M895.81 543.7V582.1M899.13 543.7V582.1M902.46 543.7V582.1M905.78 543.7V582.1M909.11 543.7V582.1M912.43 543.7V582.1M915.75 543.7V582.1M919.08 543.7V582.1M922.4 543.7V582.1M925.73 543.7V582.1M929.05 543.7V582.1M932.38 543.7V582.1M935.7 543.7V582.1M939.02 543.7V582.1M942.35 543.7V582.1M945.67 543.7V582.1M949 543.7V582.1M952.32 543.7V582.1M955.65 543.7V582.1M958.97 543.7V582.1M962.3 543.7V582.1M965.62 543.7V582.1M968.94 543.7V582.1M972.27 543.7V582.1M975.59 543.7V582.1M978.92 543.7V582.1M982.24 543.7V582.1M985.57 543.7V582.1M988.89 543.7V582.1M992.22 543.7V582.1M995.54 543.7V582.1M998.86 543.7V582.1M1002.19 543.7V582.1M1005.51 543.7V582.1M1008.84 543.7V582.1M1012.16 543.7V582.1M1015.49 543.7V582.1M1018.81 543.7V582.1M1022.13 543.7V582.1M1025.46 543.7V582.1M1028.78 543.7V582.1M1032.11 543.7V582.1M1035.43 543.7V582.1M1038.76 543.7V582.1M1042.08 543.7V582.1M1045.41 543.7V582.1M1048.73 543.7V582.1M1052.05 543.7V582.1M1055.38 543.7V582.1M1058.7 543.7V582.1M1062.03 543.7V582.1M1065.35 543.7V582.1M1068.68 543.7V582.1M1072 543.7V582.1M1075.33 543.7V582.1M1078.65 543.7V582.1M1081.97 543.7V582.1M1085.3 543.7V582.1M1088.62 543.7V582.1M1091.95 543.7V582.1M1095.27 543.7V582.1M1098.6 543.7V582.1M1101.92 543.7V582.1M1105.24 543.7V582.1M1108.57 543.7V582.1M1111.89 543.7V582.1M1115.22 543.7V582.1M1118.54 543.7V582.1M1121.87 543.7V582.1M1125.19 543.7V582.1M1128.52 543.7V582.1M1131.84 543.7V582.1M1135.16 543.7V582.1M1138.49 543.7V582.1"/>
<rect x="51.6" y="543.1" width="1090" height="12.8" fill="none" stroke="#000" stroke-width="1.3"/>
<rect x="51.6" y="556.5" width="1090" height="12.8" fill="none" stroke="#000" stroke-width="1.3"/>
<rect x="51.6" y="569.9" width="1090" height="12.8" fill="none" stroke="#000" stroke-width="1.3"/>
<text x="54.3" y="603" font-size="12.45" font-weight="bold" fill="#000">Alterations</text>
<rect x="54.2" y="612" width="10.6" height="10" fill="#4a8fc6"/>
<text x="68.8" y="621.2" font-size="12.55" fill="#111">Missense_Mutation</text>
<rect x="54.2" y="626.6" width="10.6" height="10" fill="#f89a3e"/>
<text x="68.8" y="635.8" font-size="12.55" fill="#111">In_Frame_InDel</text>
<rect x="54.2" y="641.2" width="10.6" height="10" fill="#4dac50"/>
<text x="68.8" y="650.4" font-size="12.55" fill="#111">Frame_Shift_InDel</text>
<rect x="192.3" y="612" width="10.6" height="10" fill="#e05257"/>
<text x="206.4" y="622.2" font-size="12.3" fill="#111">CNV</text>
<rect x="192.3" y="626.6" width="10.6" height="10" fill="#a67fd0"/>
<text x="206.4" y="636.8" font-size="12.3" fill="#111">Fusion</text>
<text x="285.7" y="603" font-size="12.45" font-weight="bold" fill="#000">Relapse status</text>
<rect x="285.7" y="612" width="10.6" height="10" fill="#0836a0"/>
<text x="300.7" y="621.2" font-size="12.55" fill="#111">Disease-free</text>
<rect x="285.7" y="626.6" width="10.6" height="10" fill="#d20238"/>
<text x="300.7" y="635.8" font-size="12.55" fill="#111">Relapse</text>
<text x="419" y="603" font-size="12.45" font-weight="bold" fill="#000">Histology</text>
<rect x="419" y="612" width="10.6" height="10" fill="#0836a0"/>
<text x="434.8" y="621.2" font-size="12.55" fill="#111">LUAD</text>
<rect x="419" y="626.6" width="10.6" height="10" fill="#d20238"/>
<text x="434.8" y="635.8" font-size="12.55" fill="#111">LUSC</text>
<rect x="419" y="641.2" width="10.6" height="10" fill="#c4c4c4"/>
<text x="434.8" y="650.4" font-size="12.55" fill="#111">Others</text>
<text x="488.4" y="603" font-size="12.45" font-weight="bold" fill="#000">TNM stage</text>
<rect x="488.4" y="612" width="10.6" height="10" fill="#f9f1a2"/>
<text x="504.1" y="621.2" font-size="12.55" fill="#111">Stage I</text>
<rect x="488.4" y="626.6" width="10.6" height="10" fill="#efd577"/>
<text x="504.1" y="635.8" font-size="12.55" fill="#111">Stage II</text>
<rect x="488.4" y="641.2" width="10.6" height="10" fill="#fdbf05"/>
<text x="504.1" y="650.4" font-size="12.55" fill="#111">Stage III</text>
<text x="563.2" y="603" font-size="12.45" font-weight="bold" fill="#000">Age</text>
<rect x="563.5" y="612" width="10.6" height="10" fill="#a6dbe9"/>
<text x="578.4" y="621.2" font-size="12.55" fill="#111">&lt;60</text>
<rect x="563.5" y="626.6" width="10.6" height="10" fill="#e8402e"/>
<text x="580.4" y="635.8" font-size="12.55" fill="#111">≥60</text>
<text x="612.2" y="603" font-size="12.45" font-weight="bold" fill="#000">Sex</text>
<rect x="612.8" y="612" width="10.6" height="10" fill="#e8201c"/>
<text x="628.2" y="621.2" font-size="12.55" fill="#111">Female</text>
<rect x="612.8" y="626.6" width="10.6" height="10" fill="#0b7ec8"/>
<text x="628.2" y="635.8" font-size="12.55" fill="#111">Male</text>
<text x="678" y="603" font-size="12.45" font-weight="bold" fill="#000">Smoking</text>
<rect x="679.7" y="612" width="10.6" height="10" fill="#f07a14"/>
<text x="694.6" y="621.2" font-size="12.55" fill="#111">No</text>
<rect x="679.7" y="626.6" width="10.6" height="10" fill="#712d91"/>
<text x="694.6" y="635.8" font-size="12.55" fill="#111">Yes</text>
<text x="741" y="603" font-size="12.45" font-weight="bold" fill="#000">Adjuvant therapy</text>
<rect x="741.4" y="612" width="10.6" height="10" fill="#0c4c9c"/>
<text x="756.4" y="621.2" font-size="12.55" fill="#111">No</text>
<rect x="741.4" y="626.6" width="10.6" height="10" fill="#f20c12"/>
<text x="756.4" y="635.8" font-size="12.55" fill="#111">Yes</text>
<text x="852.7" y="603" font-size="12.45" font-weight="bold" fill="#000">Tumor size</text>
<rect x="854" y="612" width="10.6" height="10" fill="#712d91"/>
<text x="869.1" y="621.2" font-size="12.55" fill="#111">≤3</text>
<rect x="854" y="626.6" width="10.6" height="10" fill="#f07a14"/>
<text x="869.1" y="635.8" font-size="12.55" fill="#111">&gt;3</text>
<text x="963" y="603" font-size="11.9" font-weight="bold" fill="#000">ctDNA status</text>
<rect x="964" y="612" width="10.6" height="10" fill="#a82222"/>
<text x="979.3" y="621.2" font-size="12.55" fill="#111">Positive</text>
<rect x="964" y="626.6" width="10.6" height="10" fill="#5b8ad8"/>
<text x="979.3" y="635.8" font-size="12.55" fill="#111">Negative</text>
<rect x="964" y="641.2" width="10.6" height="10" fill="#c4c4c4"/>
<text x="979.3" y="650.4" font-size="12.55" fill="#111">NA</text>
</svg></body></html>
